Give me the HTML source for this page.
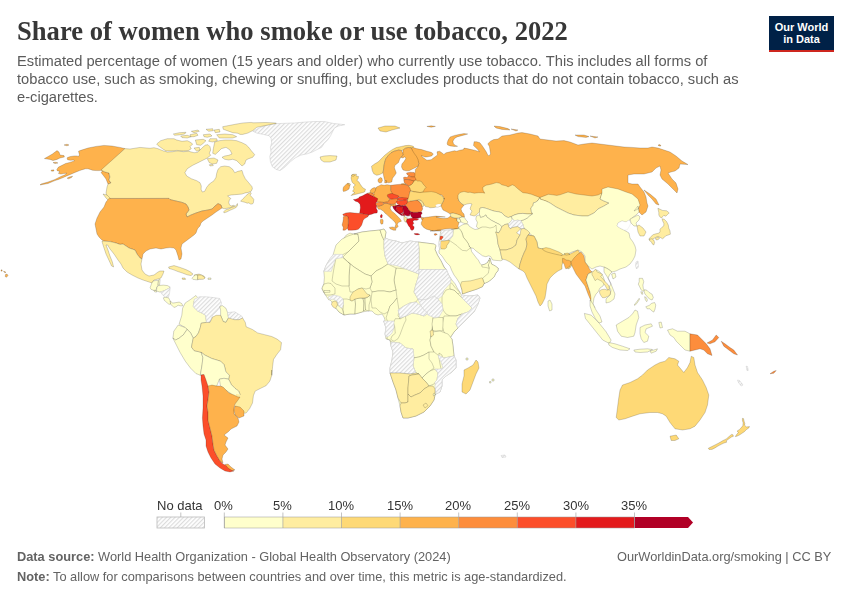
<!DOCTYPE html>
<html><head><meta charset="utf-8">
<style>
html,body{margin:0;padding:0;background:#fff;}
body{width:850px;height:600px;position:relative;overflow:hidden;font-family:"Liberation Sans",sans-serif;}
.t{position:absolute;white-space:nowrap;will-change:transform;}
#title{left:16.5px;top:15.8px;font-family:"Liberation Serif",serif;font-weight:bold;font-size:26.6px;color:#373737;letter-spacing:0px;}
.sub{left:16.5px;font-size:14.7px;color:#5b5b5b;}
#logo{position:absolute;left:769px;top:16px;width:65px;height:36px;background:#002147;border-bottom:2.8px solid #ce261e;box-sizing:border-box;color:#fff;font-weight:bold;font-size:11px;line-height:12px;text-align:center;padding-top:4.5px;}
.lg{font-size:13px;color:#333;top:497.8px;}
.ft{font-size:12.8px;color:#636363;}
svg{position:absolute;left:0;top:0;}
</style></head><body>
<div id="title" class="t">Share of women who smoke or use tobacco, 2022</div>
<div class="t sub" style="top:53px">Estimated percentage of women (15 years and older) who currently use tobacco. This includes all forms of</div>
<div class="t sub" style="top:71.2px">tobacco use, such as smoking, chewing or snuffing, but excludes products that do not contain tobacco, such as</div>
<div class="t sub" style="top:89px">e-cigarettes.</div>
<div id="logo">Our World<br>in Data</div>
<svg width="850" height="600" viewBox="0 0 850 600">
<defs>
<pattern id="hatch" patternUnits="userSpaceOnUse" width="3" height="3" patternTransform="rotate(45)">
<rect width="3" height="3" fill="#fff"/>
<rect x="0" y="0" width="1.2" height="3" fill="#dcdcdc"/>
</pattern>
</defs>
<g id="map">
<path d="M411.8 148.8 L410.0 147.0 L413.2 147.5 L416.4 148.6 L421.6 149.6 L426.9 151.2 L431.2 152.3 L433.3 153.9 L431.7 156.0 L429.1 156.5 L426.9 157.0 L424.8 157.0 L422.7 156.0 L421.1 155.5 L423.8 158.1 L426.9 160.2 L431.2 159.7 L433.3 158.1 L435.4 156.5 L437.5 154.9 L437.0 151.8 L439.6 151.2 L441.8 152.8 L443.9 154.4 L446.0 152.8 L450.2 151.8 L454.5 150.7 L456.6 151.2 L459.8 150.2 L463.5 149.6 L464.0 148.1 L467.2 148.6 L471.4 149.6 L474.6 150.2 L477.8 151.2 L479.4 151.8 L477.8 149.6 L475.6 147.5 L473.5 145.4 L474.1 141.7 L476.7 141.7 L479.9 142.8 L482.0 145.4 L484.1 148.6 L486.2 151.8 L487.8 154.9 L488.9 156.0 L490.5 153.9 L489.9 149.6 L489.4 146.5 L487.8 143.8 L490.5 141.2 L493.7 139.6 L498.0 139.0 L502.0 136.0 L510.0 135.0 L518.0 133.0 L522.0 132.6 L530.0 134.0 L538.0 136.0 L540.0 139.0 L548.0 140.0 L556.0 141.0 L564.0 140.6 L570.0 142.0 L578.0 145.0 L584.0 144.0 L592.0 143.0 L600.0 144.0 L608.0 145.0 L616.0 146.0 L624.0 147.0 L632.0 147.4 L640.0 148.0 L648.0 148.0 L652.0 147.0 L658.0 148.0 L664.0 150.0 L670.0 152.0 L676.0 156.0 L682.0 161.0 L688.0 164.6 L680.0 164.0 L679.0 168.0 L675.0 171.0 L671.0 172.0 L668.0 173.0 L672.0 179.0 L676.0 183.0 L678.0 189.0 L677.0 193.0 L673.0 189.0 L668.0 184.0 L662.0 179.0 L660.0 175.0 L661.0 170.0 L660.0 166.0 L656.0 168.0 L652.0 172.0 L648.0 173.0 L644.0 174.0 L640.0 174.0 L634.0 174.0 L628.0 175.0 L628.0 177.0 L628.0 183.0 L632.0 184.0 L638.0 184.0 L640.0 187.0 L644.0 192.0 L646.0 197.0 L647.0 203.0 L648.0 206.0 L646.0 212.0 L642.0 215.0 L639.0 212.0 L638.0 206.0 L636.0 201.0 L628.0 198.0 L622.0 195.0 L616.0 193.0 L610.0 195.0 L602.0 197.0 L598.0 201.0 L592.0 202.0 L584.0 201.0 L576.0 200.0 L568.0 198.0 L560.0 197.0 L556.0 200.0 L550.0 201.0 L542.0 203.0 L538.0 201.0 L530.0 196.0 L520.0 194.0 L512.0 192.0 L506.0 193.0 L498.0 191.0 L488.0 191.0 L480.0 198.0 L472.0 200.0 L464.0 198.0 L460.0 198.0 L458.0 198.0 L459.0 201.0 L462.0 204.0 L464.0 205.0 L461.0 209.0 L462.0 212.0 L464.0 214.0 L464.5 217.0 L463.0 217.0 L460.0 215.5 L456.0 214.0 L452.0 213.0 L450.0 213.8 L447.0 212.0 L443.0 210.0 L442.0 208.0 L441.0 206.0 L442.0 203.5 L443.5 201.0 L444.0 198.0 L442.0 195.0 L436.0 194.0 L426.0 194.0 L414.0 193.0 L410.0 188.0 L411.0 178.0 L413.0 174.0 L415.3 172.3 L415.3 169.4 L417.6 167.1 L418.8 163.5 L416.5 158.8 L414.1 155.3 L411.8 151.8Z" fill="#feb24c" stroke="#000" stroke-width="0.5" stroke-opacity="0.35"/>
<path d="M44.4 158.6 L49.0 156.0 L52.4 154.0 L57.0 150.6 L59.0 152.0 L60.0 155.0 L64.0 155.6 L64.4 157.0 L60.0 158.0 L57.0 159.4 L53.0 160.6 L50.0 159.4 L47.0 159.0Z" fill="#feb24c" stroke="#000" stroke-width="0.5" stroke-opacity="0.35"/>
<path d="M64.0 145.0 L67.0 144.2 L69.0 145.0 L67.0 145.8Z" fill="#feb24c" stroke="#000" stroke-width="0.5" stroke-opacity="0.35"/>
<path d="M53.0 162.6 L56.0 162.2 L58.0 163.0 L55.0 163.6Z" fill="#feb24c" stroke="#000" stroke-width="0.5" stroke-opacity="0.35"/>
<path d="M51.0 170.2 L53.6 169.8 L54.0 171.0 L51.6 171.2Z" fill="#feb24c" stroke="#000" stroke-width="0.5" stroke-opacity="0.35"/>
<path d="M125.0 148.6 L120.0 147.4 L112.0 146.0 L104.0 145.4 L96.0 146.4 L88.0 148.0 L80.0 150.6 L78.5 151.2 L79.4 154.7 L78.5 156.5 L77.1 155.9 L74.4 155.9 L70.3 156.5 L67.4 157.6 L67.1 158.8 L67.6 159.7 L70.3 160.3 L73.8 160.0 L74.4 160.9 L69.7 162.4 L65.6 163.5 L62.1 165.3 L58.5 167.1 L56.8 169.4 L57.4 170.9 L59.7 171.2 L58.5 173.5 L60.9 174.1 L63.8 173.5 L66.8 173.2 L65.0 174.7 L60.9 176.5 L57.4 178.2 L55.0 179.4 L48.0 182.0 L41.0 184.0 L40.0 185.0 L48.0 183.5 L55.0 180.6 L58.5 179.4 L63.2 177.6 L66.8 175.9 L69.7 174.7 L72.6 173.5 L75.0 172.4 L77.4 171.5 L79.7 170.6 L83.2 169.4 L85.6 168.8 L87.9 168.8 L90.3 169.4 L92.6 170.3 L96.2 170.6 L99.7 170.6 L101.2 170.3 L104.0 171.4 L109.0 173.0 L109.6 177.0 L109.0 180.0 L111.0 183.0 L108.0 184.0 L106.0 179.0 L103.0 175.0 L101.0 172.5Z" fill="#feb24c" stroke="#000" stroke-width="0.5" stroke-opacity="0.35"/>
<path d="M67.1 178.2 L69.1 177.1 L72.6 176.2 L71.5 177.6 L68.5 178.8Z" fill="#feb24c" stroke="#000" stroke-width="0.5" stroke-opacity="0.35"/>
<path d="M252.9 131.2 L259.4 127.9 L265.9 125.4 L273.6 123.8 L282.7 123.4 L294.4 123.0 L304.7 122.1 L315.1 121.5 L324.1 121.5 L333.2 123.4 L344.8 124.7 L338.4 126.0 L334.5 127.9 L332.5 131.8 L330.6 135.7 L328.0 139.6 L324.1 143.5 L321.5 147.4 L317.6 149.3 L312.5 151.9 L307.3 153.8 L300.8 155.1 L295.6 157.7 L290.5 161.6 L285.3 166.8 L280.1 170.6 L276.2 169.4 L272.4 166.8 L270.4 161.6 L269.8 156.4 L271.1 152.5 L270.4 147.4 L271.7 142.8 L271.1 138.3 L269.1 135.7 L263.3 134.4 L256.8 133.1Z" fill="#fff" stroke="none"/>
<path d="M252.9 131.2 L259.4 127.9 L265.9 125.4 L273.6 123.8 L282.7 123.4 L294.4 123.0 L304.7 122.1 L315.1 121.5 L324.1 121.5 L333.2 123.4 L344.8 124.7 L338.4 126.0 L334.5 127.9 L332.5 131.8 L330.6 135.7 L328.0 139.6 L324.1 143.5 L321.5 147.4 L317.6 149.3 L312.5 151.9 L307.3 153.8 L300.8 155.1 L295.6 157.7 L290.5 161.6 L285.3 166.8 L280.1 170.6 L276.2 169.4 L272.4 166.8 L270.4 161.6 L269.8 156.4 L271.1 152.5 L270.4 147.4 L271.7 142.8 L271.1 138.3 L269.1 135.7 L263.3 134.4 L256.8 133.1Z" fill="url(#hatch)" stroke="#c8c8c8" stroke-width="0.5"/>
<path d="M125.0 148.6 L101.0 170.0 L105.0 172.0 L109.0 173.0 L110.0 177.0 L109.0 180.0 L111.0 183.0 L108.0 184.0 L107.0 187.0 L106.0 193.0 L107.0 196.0 L109.0 198.6 L169.0 198.4 L170.0 199.6 L176.0 201.0 L182.0 202.4 L186.0 204.0 L188.0 207.0 L189.0 210.0 L186.0 214.0 L187.0 217.0 L191.0 215.0 L196.0 213.0 L202.0 211.0 L208.0 210.0 L212.0 209.0 L215.0 206.0 L218.0 203.6 L221.0 205.0 L222.0 208.0 L224.0 208.8 L227.6 208.2 L230.6 207.6 L234.7 205.9 L233.5 205.3 L231.2 205.9 L229.4 204.7 L228.8 202.4 L229.4 200.0 L230.9 198.5 L229.4 197.6 L227.6 195.8 L231.2 195.0 L234.7 194.7 L238.2 194.4 L241.8 194.1 L245.3 192.9 L248.2 192.4 L251.2 191.2 L252.4 188.8 L252.0 186.7 L248.7 182.7 L245.3 178.7 L243.3 174.7 L242.0 170.4 L238.0 171.3 L234.7 172.7 L232.7 169.3 L229.3 166.7 L224.7 166.0 L220.7 166.7 L218.0 169.3 L216.7 173.3 L216.0 177.3 L214.0 180.7 L209.3 184.0 L206.7 187.3 L204.7 191.3 L202.3 192.0 L201.1 189.3 L201.3 186.0 L200.0 182.7 L196.7 180.7 L191.3 178.7 L186.7 176.0 L184.9 172.7 L187.3 168.7 L192.7 165.3 L198.0 162.7 L203.3 160.0 L207.3 158.0 L210.7 155.3 L209.3 153.3 L210.7 150.0 L210.0 146.7 L208.0 144.7 L205.3 145.1 L202.7 147.3 L200.0 150.0 L197.3 152.4 L194.0 152.7 L188.7 151.3 L183.3 151.7 L178.0 150.9 L172.7 151.7 L167.3 152.0 L163.3 150.9 L158.0 148.7 L154.0 147.7 L150.0 148.3 L140.0 147.4 L130.0 149.0Z" fill="#ffeda0" stroke="#000" stroke-width="0.5" stroke-opacity="0.35"/>
<path d="M103.0 194.0 L107.0 195.0 L111.0 199.0 L110.0 202.0 L106.0 198.0Z" fill="#ffeda0" stroke="#000" stroke-width="0.5" stroke-opacity="0.35"/>
<path d="M240.6 201.2 L242.9 198.8 L245.3 196.5 L247.6 194.1 L250.6 192.4 L251.2 193.5 L250.0 195.3 L252.4 197.6 L253.8 199.4 L253.5 202.4 L252.4 204.1 L250.6 204.1 L248.8 202.9 L247.1 203.2 L245.3 202.4 L242.9 201.8Z" fill="#ffeda0" stroke="#000" stroke-width="0.5" stroke-opacity="0.35"/>
<path d="M223.5 211.8 L225.9 209.7 L228.8 208.8 L231.2 207.6 L233.5 206.8 L235.9 205.9 L237.4 203.5 L237.6 205.3 L236.2 207.4 L233.5 208.8 L230.0 210.3 L226.5 212.1 L224.1 212.8Z" fill="#ffeda0" stroke="#000" stroke-width="0.5" stroke-opacity="0.35"/>
<path d="M156.7 144.0 L160.7 140.7 L167.3 138.7 L174.0 138.7 L176.7 140.0 L182.0 141.3 L187.3 140.7 L190.0 142.0 L192.7 144.0 L190.0 146.7 L191.3 148.7 L188.7 150.4 L183.3 150.9 L176.7 150.4 L171.3 150.9 L166.0 150.9 L163.3 149.3 L158.0 145.6Z" fill="#ffeda0" stroke="#000" stroke-width="0.5" stroke-opacity="0.35"/>
<path d="M173.3 134.0 L179.3 132.7 L186.0 132.3 L184.7 134.0 L179.3 134.9 L174.7 135.3Z" fill="#ffeda0" stroke="#000" stroke-width="0.5" stroke-opacity="0.35"/>
<path d="M180.7 136.0 L187.3 135.3 L191.3 136.7 L187.3 138.0 L182.0 137.6Z" fill="#ffeda0" stroke="#000" stroke-width="0.5" stroke-opacity="0.35"/>
<path d="M191.3 131.3 L198.0 130.0 L199.3 131.3 L194.0 132.7Z" fill="#ffeda0" stroke="#000" stroke-width="0.5" stroke-opacity="0.35"/>
<path d="M190.0 134.7 L196.7 133.3 L198.0 135.3 L194.0 136.7 L190.7 136.7Z" fill="#ffeda0" stroke="#000" stroke-width="0.5" stroke-opacity="0.35"/>
<path d="M195.3 140.0 L203.3 139.3 L206.0 140.7 L203.3 143.3 L200.7 145.3 L196.7 144.7Z" fill="#ffeda0" stroke="#000" stroke-width="0.5" stroke-opacity="0.35"/>
<path d="M194.0 148.0 L199.3 147.3 L200.0 150.0 L196.7 151.3Z" fill="#ffeda0" stroke="#000" stroke-width="0.5" stroke-opacity="0.35"/>
<path d="M206.0 129.3 L212.7 128.7 L213.3 130.7 L208.7 131.3Z" fill="#ffeda0" stroke="#000" stroke-width="0.5" stroke-opacity="0.35"/>
<path d="M203.3 134.7 L210.0 134.0 L212.0 136.0 L207.3 137.3 L204.0 136.7Z" fill="#ffeda0" stroke="#000" stroke-width="0.5" stroke-opacity="0.35"/>
<path d="M210.0 138.7 L216.7 138.7 L217.3 140.7 L212.7 142.0 L208.7 141.3Z" fill="#ffeda0" stroke="#000" stroke-width="0.5" stroke-opacity="0.35"/>
<path d="M214.0 130.0 L219.3 129.3 L220.0 132.0 L215.3 132.7Z" fill="#ffeda0" stroke="#000" stroke-width="0.5" stroke-opacity="0.35"/>
<path d="M216.7 134.7 L224.7 134.0 L232.7 134.7 L236.7 136.7 L232.7 138.0 L224.7 138.0 L219.3 138.0Z" fill="#ffeda0" stroke="#000" stroke-width="0.5" stroke-opacity="0.35"/>
<path d="M222.7 126.7 L230.0 125.3 L236.7 124.0 L243.3 122.9 L251.3 122.4 L253.0 122.8 L265.9 122.5 L276.2 123.0 L276.2 123.4 L265.9 125.4 L256.8 127.3 L252.9 130.5 L247.8 133.1 L242.6 134.4 L240.0 134.4 L238.0 133.3 L232.7 132.7 L227.3 130.7 L223.3 129.3Z" fill="#ffeda0" stroke="#000" stroke-width="0.5" stroke-opacity="0.35"/>
<path d="M214.7 142.0 L219.3 140.7 L224.7 140.0 L231.3 140.0 L236.7 140.7 L242.0 142.7 L246.0 144.7 L248.7 147.3 L251.3 150.7 L254.7 154.7 L252.7 157.3 L248.7 158.7 L246.0 160.0 L244.7 164.0 L242.0 166.0 L239.3 163.3 L236.7 160.7 L232.7 159.3 L228.7 160.0 L224.7 159.3 L222.0 157.3 L224.7 156.0 L228.7 155.3 L232.0 154.0 L230.0 150.0 L226.0 147.3 L221.3 148.7 L218.0 152.0 L215.3 154.4 L212.7 153.3 L213.3 148.7 L214.0 145.3Z" fill="#ffeda0" stroke="#000" stroke-width="0.5" stroke-opacity="0.35"/>
<path d="M207.3 158.7 L214.0 158.0 L218.0 160.0 L216.7 163.3 L212.7 164.0 L209.3 162.7Z" fill="#ffeda0" stroke="#000" stroke-width="0.5" stroke-opacity="0.35"/>
<path d="M209.3 164.7 L212.7 164.4 L213.3 165.6 L210.0 166.0Z" fill="#ffeda0" stroke="#000" stroke-width="0.5" stroke-opacity="0.35"/>
<path d="M320.0 157.0 L324.0 156.0 L330.0 155.6 L337.0 156.0 L336.0 160.0 L330.0 162.0 L324.0 162.0 L321.0 160.0Z" fill="#ffeda0" stroke="#000" stroke-width="0.5" stroke-opacity="0.35"/>
<path d="M109.0 198.4 L169.0 198.4 L170.0 199.6 L176.0 201.0 L182.0 202.4 L186.0 204.0 L188.0 207.0 L189.0 210.0 L186.0 214.0 L187.0 217.0 L191.0 215.0 L196.0 213.0 L202.0 211.0 L208.0 210.0 L212.0 209.0 L215.0 206.0 L218.0 203.6 L221.0 205.0 L222.0 208.0 L219.0 210.0 L216.0 212.0 L212.0 215.0 L209.0 217.0 L206.0 219.0 L203.0 221.0 L201.0 223.0 L200.0 226.0 L198.0 228.0 L197.0 230.0 L196.0 233.0 L194.0 235.0 L190.0 238.0 L186.0 241.0 L182.0 244.0 L181.0 248.0 L182.0 254.0 L181.0 259.0 L179.0 260.0 L178.0 256.0 L176.0 250.0 L174.0 248.0 L170.0 247.6 L166.0 248.0 L161.0 249.0 L156.0 248.0 L150.0 249.0 L146.0 251.0 L143.0 254.0 L142.0 259.0 L140.0 258.0 L137.0 254.0 L135.0 250.0 L132.0 249.0 L129.0 248.0 L126.0 246.0 L123.0 244.0 L120.0 244.4 L116.0 243.0 L110.0 241.6 L104.0 241.0 L102.0 240.0 L99.0 237.0 L97.0 234.0 L96.0 229.0 L95.0 224.0 L97.0 218.0 L100.0 212.0 L104.0 207.0 L106.0 202.0Z" fill="#feb24c" stroke="#000" stroke-width="0.5" stroke-opacity="0.35"/>
<path d="M102.0 241.0 L110.0 241.6 L116.0 243.0 L120.0 244.4 L123.0 244.0 L126.0 246.0 L129.0 248.0 L132.0 249.0 L135.0 250.0 L137.0 254.0 L140.0 258.0 L142.0 259.0 L141.0 264.0 L142.0 270.0 L145.0 274.0 L149.0 276.0 L154.0 275.0 L158.0 272.0 L160.0 271.0 L164.0 271.0 L163.0 274.0 L161.0 278.0 L158.0 279.0 L154.0 280.0 L152.0 283.0 L149.0 282.0 L143.0 280.0 L138.0 278.0 L132.0 275.0 L127.0 272.0 L123.0 268.0 L121.0 264.0 L118.0 260.0 L114.0 254.0 L110.0 249.0 L107.6 245.0 L106.0 245.0 L108.0 250.0 L110.0 256.0 L112.4 262.0 L113.6 267.0 L111.6 266.0 L109.0 260.4 L106.0 254.0 L104.0 248.0 L102.4 243.0Z" fill="#ffeda0" stroke="#000" stroke-width="0.5" stroke-opacity="0.35"/>
<path d="M168.6 267.0 L174.0 265.6 L180.0 267.4 L186.0 269.6 L190.0 271.6 L193.0 274.0 L191.0 275.6 L187.0 274.8 L182.4 273.0 L178.0 271.6 L173.0 269.6 L169.0 268.4Z" fill="#ffeda0" stroke="#000" stroke-width="0.5" stroke-opacity="0.35"/>
<path d="M194.0 275.0 L199.0 274.0 L204.0 276.0 L205.0 278.0 L200.0 279.0 L195.0 278.0Z" fill="#ffeda0" stroke="#000" stroke-width="0.5" stroke-opacity="0.35"/>
<path d="M182.0 278.0 L185.0 278.0 L185.6 279.4 L182.6 279.4Z" fill="#ffeda0" stroke="#000" stroke-width="0.5" stroke-opacity="0.35"/>
<path d="M208.0 278.0 L211.0 278.0 L211.0 279.4 L208.0 279.4Z" fill="#ffffcc" stroke="#000" stroke-width="0.5" stroke-opacity="0.35"/>
<path d="M150.1 287.8 L151.6 283.5 L153.2 280.9 L156.9 280.4 L158.5 280.9 L158.0 285.1 L156.9 287.2 L155.9 290.4 L153.8 290.4 L151.1 289.4Z" fill="#ffffcc" stroke="#000" stroke-width="0.5" stroke-opacity="0.35"/>
<path d="M158.5 279.8 L160.1 279.3 L159.6 285.1 L158.0 285.1Z" fill="#ffffcc" stroke="#000" stroke-width="0.5" stroke-opacity="0.35"/>
<path d="M156.9 287.2 L158.5 285.6 L163.3 285.1 L167.5 285.6 L170.2 287.2 L168.1 288.8 L164.9 290.4 L162.2 291.5 L159.6 292.0 L156.4 290.9Z" fill="#ffffcc" stroke="#000" stroke-width="0.5" stroke-opacity="0.35"/>
<path d="M153.8 290.4 L155.9 290.4 L156.9 292.0 L154.8 292.0Z" fill="#ffffcc" stroke="#000" stroke-width="0.5" stroke-opacity="0.35"/>
<path d="M160.6 292.0 L164.9 290.4 L168.1 288.8 L170.2 287.8 L169.6 292.5 L168.6 296.8 L165.4 297.3 L162.8 295.2Z" fill="#fff" stroke="none"/>
<path d="M160.6 292.0 L164.9 290.4 L168.1 288.8 L170.2 287.8 L169.6 292.5 L168.6 296.8 L165.4 297.3 L162.8 295.2Z" fill="url(#hatch)" stroke="#c8c8c8" stroke-width="0.5"/>
<path d="M163.3 297.8 L165.4 297.3 L168.6 297.8 L170.2 301.0 L170.7 304.2 L168.6 304.2 L166.5 302.1 L164.4 300.5Z" fill="#ffffcc" stroke="#000" stroke-width="0.5" stroke-opacity="0.35"/>
<path d="M170.2 301.0 L172.8 303.1 L176.0 302.6 L179.2 302.1 L181.8 303.6 L182.9 305.8 L180.2 305.8 L178.1 305.2 L176.0 306.8 L173.9 307.4 L171.8 305.2 L170.7 304.2Z" fill="#ffffcc" stroke="#000" stroke-width="0.5" stroke-opacity="0.35"/>
<path d="M191.9 278.2 L195.1 275.1 L197.7 275.1 L197.7 279.8 L196.1 279.8 L192.9 279.3Z" fill="#ffffcc" stroke="#000" stroke-width="0.5" stroke-opacity="0.35"/>
<path d="M197.7 275.1 L201.4 275.1 L205.1 277.7 L203.5 279.3 L199.3 279.3 L197.7 279.8Z" fill="#ffeda0" stroke="#000" stroke-width="0.5" stroke-opacity="0.35"/>
<path d="M179.1 324.1 L181.8 315.3 L182.6 308.2 L185.3 302.9 L190.6 299.4 L195.9 295.5 L197.6 297.6 L194.1 301.2 L193.2 306.5 L197.6 310.9 L202.9 313.5 L205.6 315.3 L206.5 322.4 L201.2 323.2 L200.3 327.6 L198.5 332.9 L195.9 336.5 L193.2 338.2 L190.6 332.9 L187.1 329.4 L185.3 327.6Z" fill="#ffffcc" stroke="#000" stroke-width="0.5" stroke-opacity="0.35"/>
<path d="M194.1 299.4 L199.4 296.8 L206.5 296.8 L213.5 297.6 L219.7 298.5 L221.5 302.9 L220.6 306.5 L217.1 310.9 L212.6 315.3 L210.0 322.4 L206.5 322.4 L205.6 315.3 L202.9 313.5 L197.6 310.9 L193.2 306.5 L194.1 301.2Z" fill="#fff" stroke="none"/>
<path d="M194.1 299.4 L199.4 296.8 L206.5 296.8 L213.5 297.6 L219.7 298.5 L221.5 302.9 L220.6 306.5 L217.1 310.9 L212.6 315.3 L210.0 322.4 L206.5 322.4 L205.6 315.3 L202.9 313.5 L197.6 310.9 L193.2 306.5 L194.1 301.2Z" fill="url(#hatch)" stroke="#c8c8c8" stroke-width="0.5"/>
<path d="M219.7 306.5 L222.3 305.6 L225.9 308.2 L227.6 312.6 L228.5 317.9 L225.9 322.4 L223.2 321.5 L220.6 315.3 L220.6 310.0Z" fill="#ffffcc" stroke="#000" stroke-width="0.5" stroke-opacity="0.35"/>
<path d="M227.6 312.6 L234.7 311.8 L241.8 316.2 L242.6 317.9 L239.1 319.7 L234.7 319.7 L229.4 320.6 L228.5 317.9Z" fill="#fff" stroke="none"/>
<path d="M227.6 312.6 L234.7 311.8 L241.8 316.2 L242.6 317.9 L239.1 319.7 L234.7 319.7 L229.4 320.6 L228.5 317.9Z" fill="url(#hatch)" stroke="#c8c8c8" stroke-width="0.5"/>
<path d="M173.8 331.2 L178.2 325.0 L185.3 327.6 L187.1 329.4 L183.5 334.7 L179.1 338.2 L175.6 340.0 L172.9 338.2Z" fill="#ffffcc" stroke="#000" stroke-width="0.5" stroke-opacity="0.35"/>
<path d="M172.9 338.2 L175.6 340.0 L179.1 338.2 L183.5 334.7 L187.1 329.4 L190.6 332.9 L193.2 338.2 L191.5 347.1 L194.1 350.6 L201.2 352.3 L202.9 357.6 L202.1 364.7 L201.2 370.0 L200.3 375.3 L195.9 373.5 L190.6 368.2 L185.3 361.2 L180.0 352.3 L176.5 345.3Z" fill="#ffffcc" stroke="#000" stroke-width="0.5" stroke-opacity="0.35"/>
<path d="M201.2 323.2 L206.5 322.4 L210.0 322.4 L212.6 317.1 L216.2 315.3 L220.6 315.3 L223.2 321.5 L225.9 322.4 L228.5 317.9 L234.7 319.7 L239.1 319.7 L242.6 317.9 L245.3 322.4 L246.2 326.8 L252.3 329.4 L257.6 332.9 L264.7 334.7 L271.8 336.5 L277.1 339.1 L281.5 342.6 L280.6 349.7 L277.1 354.1 L273.5 359.4 L272.6 366.5 L271.8 375.3 L271.7 370.0 L271.7 375.5 L269.9 381.0 L266.2 385.6 L260.7 388.3 L255.2 391.1 L253.4 395.7 L252.5 403.0 L249.7 408.5 L246.1 413.1 L244.2 413.1 L238.7 408.5 L235.0 407.6 L238.7 403.0 L241.5 397.5 L240.6 395.7 L238.7 391.1 L235.0 388.3 L231.4 384.7 L228.6 379.2 L229.4 375.3 L225.9 371.8 L224.1 364.7 L220.6 361.2 L211.8 358.5 L204.7 355.0 L201.2 352.3 L194.1 350.6 L191.5 347.1 L193.2 338.2 L195.9 336.5 L198.5 332.9 L200.3 327.6Z" fill="#ffeda0" stroke="#000" stroke-width="0.5" stroke-opacity="0.35"/>
<path d="M201.2 352.3 L204.7 355.0 L211.8 358.5 L220.6 361.2 L224.1 364.7 L225.9 371.8 L229.4 375.3 L228.6 379.2 L224.0 378.3 L219.4 379.2 L216.7 386.1 L211.2 386.1 L207.5 388.3 L204.8 381.0 L202.9 374.6 L200.3 375.3 L201.2 370.0 L202.1 364.7 L202.9 357.6Z" fill="#ffffcc" stroke="#000" stroke-width="0.5" stroke-opacity="0.35"/>
<path d="M219.4 379.2 L224.0 378.3 L228.6 379.2 L231.4 384.7 L235.0 388.3 L238.7 391.1 L240.6 395.7 L236.9 397.5 L233.2 398.4 L231.4 393.9 L225.9 390.2 L220.4 385.6Z" fill="#ffffcc" stroke="#000" stroke-width="0.5" stroke-opacity="0.35"/>
<path d="M236.0 394.0 L242.0 395.0 L246.0 404.0 L247.0 412.0 L244.0 412.4 L240.0 408.0 L235.0 405.6Z" fill="#ffeda0" stroke="none" stroke-width="0.5" stroke-opacity="0.35"/>
<path d="M201.0 375.0 L204.0 374.4 L206.0 380.0 L208.0 386.0 L209.0 392.0 L208.0 400.0 L207.0 406.0 L208.0 412.0 L208.0 420.0 L210.0 428.0 L212.0 436.0 L213.0 444.0 L214.0 450.0 L217.0 456.0 L220.0 461.0 L223.0 464.0 L227.0 466.0 L230.0 469.0 L234.0 471.0 L230.0 472.0 L225.0 471.0 L220.0 468.0 L215.0 464.0 L211.0 458.0 L208.0 452.0 L206.0 446.0 L206.0 440.0 L204.0 434.0 L203.0 426.0 L202.4 418.0 L203.0 408.0 L203.0 396.0 L202.0 386.0 L201.0 380.0Z" fill="#fc4e2a" stroke="#000" stroke-width="0.5" stroke-opacity="0.35"/>
<path d="M208.0 386.0 L212.0 385.0 L216.0 386.0 L220.0 386.0 L223.0 387.0 L229.0 393.0 L234.0 395.0 L238.0 397.0 L240.0 397.0 L238.0 400.0 L235.0 404.0 L234.0 408.0 L234.0 414.0 L238.0 418.0 L239.0 422.0 L237.0 426.0 L233.0 428.0 L231.0 429.0 L228.0 432.0 L224.0 435.0 L228.0 438.0 L226.0 442.0 L225.0 445.0 L228.0 449.0 L226.0 452.0 L223.0 455.0 L222.0 459.0 L223.0 463.0 L220.0 461.0 L217.0 456.0 L214.0 450.0 L213.0 444.0 L212.0 436.0 L210.0 428.0 L208.0 420.0 L208.0 412.0 L207.0 406.0 L208.0 400.0 L209.0 392.0Z" fill="#feb24c" stroke="#000" stroke-width="0.5" stroke-opacity="0.35"/>
<path d="M225.0 464.4 L228.0 464.0 L231.0 467.0 L235.0 470.0 L232.0 470.6 L228.0 468.0Z" fill="#feb24c" stroke="#000" stroke-width="0.5" stroke-opacity="0.35"/>
<path d="M235.0 406.0 L240.0 407.0 L244.0 411.0 L244.0 416.0 L239.0 418.0 L235.0 415.0 L234.0 410.0Z" fill="#feb24c" stroke="#000" stroke-width="0.5" stroke-opacity="0.35"/>
<path d="M1.0 270.0 L2.0 269.8 L2.2 271.0 L1.2 271.2Z" fill="#feb24c" stroke="#000" stroke-width="0.5" stroke-opacity="0.35"/>
<path d="M3.5 271.3 L5.0 271.6 L6.0 272.5 L4.5 272.6Z" fill="#feb24c" stroke="#000" stroke-width="0.5" stroke-opacity="0.35"/>
<path d="M5.5 274.5 L7.0 274.0 L8.0 275.5 L6.5 277.3 L5.2 276.5Z" fill="#feb24c" stroke="#000" stroke-width="0.5" stroke-opacity="0.35"/>
<path d="M371.5 166.3 L374.5 164.0 L378.3 161.8 L382.0 158.0 L385.0 155.0 L388.8 152.0 L392.5 149.4 L396.3 147.5 L401.5 146.4 L405.3 145.6 L409.0 145.3 L412.8 146.0 L413.9 147.1 L411.3 147.9 L408.3 147.5 L405.3 148.3 L403.0 150.1 L401.5 150.5 L398.5 150.1 L394.0 151.3 L391.0 152.8 L388.0 155.8 L385.8 158.8 L384.6 162.5 L383.9 166.3 L383.5 170.0 L382.8 173.0 L379.8 174.5 L376.8 175.3 L373.8 173.8 L372.3 170.8Z" fill="#fed976" stroke="#000" stroke-width="0.5" stroke-opacity="0.35"/>
<path d="M383.5 170.0 L383.9 166.3 L384.6 162.5 L385.8 158.8 L388.0 155.8 L391.0 152.8 L394.0 151.3 L398.5 150.1 L401.5 150.5 L403.0 153.5 L403.4 155.0 L400.8 157.3 L399.6 159.5 L398.5 162.5 L394.8 165.5 L394.4 167.8 L395.5 170.8 L396.3 173.0 L394.8 175.3 L392.5 178.3 L391.8 182.0 L388.8 182.8 L385.8 182.0 L384.3 179.0 L383.5 175.3 L383.1 173.0Z" fill="#feb24c" stroke="#000" stroke-width="0.5" stroke-opacity="0.35"/>
<path d="M403.0 150.1 L405.3 148.3 L408.3 147.5 L411.3 147.9 L412.0 149.8 L414.3 153.5 L416.5 156.5 L418.0 159.5 L418.8 163.3 L418.0 166.3 L415.0 167.8 L412.0 169.3 L409.0 170.8 L406.0 170.8 L403.0 170.0 L401.5 167.0 L401.9 164.0 L403.8 161.8 L405.3 159.5 L406.0 158.0 L404.5 156.9 L403.0 158.0 L400.8 157.3 L403.4 155.0 L403.0 153.5Z" fill="#feb24c" stroke="#000" stroke-width="0.5" stroke-opacity="0.35"/>
<path d="M406.5 173.0 L410.0 172.2 L414.0 172.5 L414.8 173.5 L415.0 175.0 L414.5 177.0 L412.0 177.0 L410.0 176.5 L408.5 175.5 L407.0 174.5Z" fill="#fd8d3c" stroke="#000" stroke-width="0.5" stroke-opacity="0.35"/>
<path d="M403.5 177.5 L405.0 177.0 L407.0 177.5 L408.5 175.8 L410.0 176.5 L412.0 177.0 L414.5 177.0 L415.5 178.0 L416.0 180.0 L414.0 181.0 L412.0 180.5 L410.0 180.0 L407.5 179.5 L405.0 179.5 L403.8 179.8Z" fill="#fd8d3c" stroke="#000" stroke-width="0.5" stroke-opacity="0.35"/>
<path d="M403.8 180.0 L405.0 179.5 L407.5 179.5 L410.0 180.0 L412.0 180.5 L414.0 181.0 L413.0 183.0 L411.5 184.5 L410.0 185.5 L408.5 186.0 L407.0 185.0 L406.0 184.0 L404.5 183.0 L404.0 181.5Z" fill="#fd8d3c" stroke="#000" stroke-width="0.5" stroke-opacity="0.35"/>
<path d="M401.0 184.0 L403.0 183.5 L405.5 183.8 L406.0 184.8 L404.0 185.0 L401.5 185.0Z" fill="#feb24c" stroke="#000" stroke-width="0.5" stroke-opacity="0.35"/>
<path d="M408.5 186.0 L410.0 185.5 L411.5 184.5 L413.0 183.0 L414.0 181.0 L416.0 180.0 L417.5 181.0 L420.0 181.0 L422.0 182.0 L423.0 184.0 L425.0 186.0 L426.0 187.5 L425.0 188.5 L424.0 190.0 L423.0 192.0 L420.0 192.5 L417.0 192.0 L414.0 191.5 L411.5 191.0 L410.0 190.5 L409.2 189.0 L409.0 187.5Z" fill="#fed976" stroke="#000" stroke-width="0.5" stroke-opacity="0.35"/>
<path d="M390.6 185.3 L395.3 184.7 L401.2 184.2 L405.3 184.7 L407.6 185.3 L410.0 188.2 L410.6 190.6 L409.4 194.1 L410.0 198.8 L405.9 199.1 L402.4 198.1 L398.8 197.3 L395.3 196.1 L392.4 194.7 L390.6 190.6Z" fill="#fd8d3c" stroke="#000" stroke-width="0.5" stroke-opacity="0.35"/>
<path d="M378.3 179.0 L380.5 177.5 L382.0 178.3 L382.4 180.5 L381.3 182.8 L379.0 182.8 L377.9 180.9Z" fill="#feb24c" stroke="#000" stroke-width="0.5" stroke-opacity="0.35"/>
<path d="M384.7 180.6 L386.5 180.6 L386.7 182.9 L384.7 182.9Z" fill="#feb24c" stroke="#000" stroke-width="0.5" stroke-opacity="0.35"/>
<path d="M376.5 187.1 L378.8 185.9 L381.2 184.7 L384.1 185.3 L387.1 184.7 L390.6 185.3 L390.6 190.6 L392.4 193.5 L389.4 194.7 L387.6 196.5 L389.4 198.8 L390.6 201.2 L388.2 201.8 L384.7 202.4 L381.2 202.4 L376.5 201.8 L374.7 198.8 L373.5 195.3 L374.1 191.8 L375.3 189.4Z" fill="#feb24c" stroke="#000" stroke-width="0.5" stroke-opacity="0.35"/>
<path d="M352.0 174.8 L353.5 174.2 L356.5 174.2 L356.0 176.0 L358.5 176.5 L358.2 178.5 L357.0 180.0 L357.2 180.8 L359.0 182.0 L360.0 184.0 L361.5 186.0 L362.5 187.5 L364.0 188.5 L365.5 189.2 L365.0 191.0 L364.5 192.0 L363.0 192.5 L361.0 193.0 L359.0 193.5 L357.0 194.0 L355.0 194.5 L353.0 195.0 L351.0 195.5 L352.0 194.5 L353.5 193.5 L355.0 192.8 L353.5 192.0 L352.5 191.0 L353.5 190.0 L354.0 189.0 L353.5 187.5 L353.0 187.0 L354.5 186.0 L355.0 185.0 L354.5 184.0 L353.0 183.2 L352.0 182.0 L351.5 180.0 L351.0 178.0 L351.5 176.0Z" fill="#fed976" stroke="#000" stroke-width="0.5" stroke-opacity="0.35"/>
<path d="M343.0 191.0 L343.0 189.0 L343.5 187.0 L345.0 185.5 L347.0 183.5 L348.5 183.2 L349.5 184.5 L350.0 185.5 L349.5 187.0 L349.0 189.0 L347.5 190.0 L345.5 191.0 L343.5 191.5Z" fill="#feb24c" stroke="#000" stroke-width="0.5" stroke-opacity="0.35"/>
<path d="M347.5 184.0 L349.5 183.5 L350.5 184.2 L350.0 185.0 L348.8 185.0Z" fill="#fed976" stroke="#000" stroke-width="0.5" stroke-opacity="0.35"/>
<path d="M351.2 175.3 L352.9 174.4 L354.7 175.3 L353.2 176.5Z" fill="#fed976" stroke="#000" stroke-width="0.5" stroke-opacity="0.35"/>
<path d="M353.3 199.6 L355.8 199.2 L358.8 197.9 L359.2 197.1 L362.5 195.8 L366.2 193.8 L367.5 193.3 L370.0 194.6 L373.3 196.2 L376.7 197.9 L377.9 198.8 L376.7 201.7 L375.8 203.8 L376.7 205.8 L376.2 208.3 L377.5 210.8 L377.1 212.9 L374.2 213.3 L371.7 214.2 L368.8 215.0 L365.8 214.6 L362.5 213.8 L359.6 213.3 L360.0 210.8 L360.4 207.5 L360.0 204.2 L357.9 202.1 L355.4 201.2Z" fill="#e31a1c" stroke="#000" stroke-width="0.5" stroke-opacity="0.35"/>
<path d="M380.7 215.0 L381.7 214.2 L382.3 215.4 L382.1 217.5 L380.8 217.9 L380.4 216.2Z" fill="#e31a1c" stroke="#000" stroke-width="0.5" stroke-opacity="0.35"/>
<path d="M380.4 219.6 L382.5 219.2 L383.2 220.8 L382.9 223.8 L381.2 224.2 L380.4 222.5Z" fill="#feb24c" stroke="#000" stroke-width="0.5" stroke-opacity="0.35"/>
<path d="M342.9 214.2 L345.8 212.9 L350.0 212.5 L354.2 212.9 L357.9 213.3 L359.6 213.3 L362.5 213.8 L365.8 214.6 L368.8 215.0 L367.9 216.7 L365.0 218.3 L363.3 220.0 L362.5 222.5 L361.7 225.0 L360.0 227.5 L358.3 229.2 L355.8 230.0 L351.7 230.2 L348.3 230.2 L347.5 228.3 L347.9 225.8 L348.3 223.3 L348.3 220.0 L347.9 216.7 L345.8 215.8 L343.8 215.8 L342.9 215.0Z" fill="#fc4e2a" stroke="#000" stroke-width="0.5" stroke-opacity="0.35"/>
<path d="M343.3 216.7 L345.8 215.8 L347.9 216.7 L348.3 220.0 L348.3 223.3 L347.9 225.8 L347.5 228.3 L345.0 230.2 L342.9 230.2 L343.3 227.5 L342.1 225.0 L342.9 221.7 L343.3 219.2Z" fill="#fd8d3c" stroke="#000" stroke-width="0.5" stroke-opacity="0.35"/>
<path d="M368.3 192.9 L370.4 192.5 L372.9 193.3 L374.2 194.6 L373.3 196.2 L370.0 194.6 L367.5 193.3Z" fill="#fd8d3c" stroke="#000" stroke-width="0.5" stroke-opacity="0.35"/>
<path d="M370.0 190.8 L371.7 188.8 L374.2 187.5 L375.8 187.9 L375.4 190.8 L374.2 192.5 L372.9 193.3 L370.4 192.5Z" fill="#feb24c" stroke="#000" stroke-width="0.5" stroke-opacity="0.35"/>
<path d="M376.7 206.5 L378.6 206.0 L380.9 205.5 L382.4 205.1 L383.3 204.1 L384.2 203.4 L386.1 203.2 L388.0 203.6 L389.9 204.1 L390.8 204.6 L391.3 205.8 L390.4 206.9 L390.2 208.5 L391.6 210.9 L394.5 213.2 L397.3 216.1 L400.1 218.9 L401.5 221.2 L400.1 221.7 L398.2 222.6 L397.3 224.5 L398.2 226.4 L396.4 228.3 L394.9 226.9 L395.9 224.1 L394.9 222.2 L392.6 219.8 L389.8 217.5 L387.4 215.1 L385.1 213.2 L383.2 210.9 L380.4 209.3 L378.5 209.3 L377.5 207.6Z" fill="#feb24c" stroke="#000" stroke-width="0.5" stroke-opacity="0.35"/>
<path d="M389.3 227.4 L392.6 226.9 L395.4 227.8 L395.9 230.2 L393.5 230.2 L390.2 228.8Z" fill="#feb24c" stroke="#000" stroke-width="0.5" stroke-opacity="0.35"/>
<path d="M375.3 204.1 L376.7 202.7 L378.6 202.2 L380.5 202.0 L382.4 202.2 L383.8 202.9 L383.3 204.1 L382.4 205.1 L380.9 205.5 L379.5 206.0 L377.6 205.8 L376.2 205.3Z" fill="#fd8d3c" stroke="#000" stroke-width="0.5" stroke-opacity="0.35"/>
<path d="M383.3 202.5 L385.2 202.2 L387.5 202.0 L388.5 201.3 L388.9 200.1 L390.8 199.2 L392.2 198.9 L394.6 198.7 L396.9 198.5 L397.9 198.7 L398.4 200.0 L397.4 201.3 L396.5 202.2 L395.5 203.6 L393.6 204.4 L391.8 204.4 L389.9 204.1 L388.0 203.6 L386.1 203.2 L384.2 203.4Z" fill="#fd8d3c" stroke="#000" stroke-width="0.5" stroke-opacity="0.35"/>
<path d="M387.5 194.7 L389.9 193.8 L392.2 193.5 L394.6 194.5 L396.9 195.2 L398.8 196.1 L398.4 197.5 L396.9 198.5 L394.6 198.7 L392.2 198.9 L390.8 199.2 L389.4 198.5 L388.0 197.1 L387.3 195.6Z" fill="#fc4e2a" stroke="#000" stroke-width="0.5" stroke-opacity="0.35"/>
<path d="M397.6 198.2 L399.3 197.5 L402.1 197.5 L404.9 197.8 L407.8 198.0 L407.8 199.4 L405.9 200.1 L404.0 200.1 L402.1 200.6 L400.2 200.6 L398.4 200.1 L397.4 199.4Z" fill="#fc4e2a" stroke="#000" stroke-width="0.5" stroke-opacity="0.35"/>
<path d="M396.5 201.3 L398.4 200.4 L400.2 200.6 L402.1 200.6 L404.0 200.1 L405.9 200.1 L408.0 200.4 L407.8 202.2 L406.8 204.1 L404.9 205.1 L403.1 205.8 L401.2 205.8 L399.3 205.1 L397.6 204.1 L396.5 202.7Z" fill="#fc4e2a" stroke="#000" stroke-width="0.5" stroke-opacity="0.35"/>
<path d="M390.8 204.6 L392.7 204.4 L394.6 204.4 L395.5 204.1 L396.0 205.5 L394.6 206.2 L392.7 206.0 L391.3 205.8Z" fill="#feb24c" stroke="#000" stroke-width="0.5" stroke-opacity="0.35"/>
<path d="M392.7 206.0 L394.6 206.2 L396.0 205.5 L397.4 205.1 L399.3 205.1 L401.2 205.8 L403.1 205.8 L402.5 206.5 L401.1 207.1 L398.2 206.6 L395.9 207.1 L396.8 209.9 L399.2 212.3 L402.0 214.2 L403.4 215.6 L401.5 215.6 L398.2 213.2 L395.4 210.9 L393.5 208.5 L392.9 207.1Z" fill="#b10026" stroke="#000" stroke-width="0.5" stroke-opacity="0.35"/>
<path d="M395.9 207.1 L398.2 206.6 L401.1 207.1 L402.5 206.2 L402.9 208.5 L403.4 211.4 L402.0 213.2 L400.1 213.2 L399.2 212.3 L396.8 209.9Z" fill="#e31a1c" stroke="#000" stroke-width="0.5" stroke-opacity="0.35"/>
<path d="M402.5 206.2 L405.3 205.2 L407.2 207.1 L408.6 209.5 L410.5 211.4 L410.0 213.7 L409.5 216.1 L407.2 216.1 L404.8 215.1 L403.4 213.2 L403.4 211.4 L402.9 208.5Z" fill="#b10026" stroke="#000" stroke-width="0.5" stroke-opacity="0.35"/>
<path d="M402.0 213.2 L403.4 213.2 L404.8 215.1 L404.4 216.1 L403.4 215.6Z" fill="#e31a1c" stroke="#000" stroke-width="0.5" stroke-opacity="0.35"/>
<path d="M410.5 211.4 L413.3 212.3 L417.1 212.3 L421.3 211.8 L422.2 213.2 L420.8 215.1 L421.3 217.5 L418.0 217.9 L415.2 218.4 L412.8 217.9 L411.4 217.0 L410.0 213.7Z" fill="#b10026" stroke="#000" stroke-width="0.5" stroke-opacity="0.35"/>
<path d="M407.2 216.1 L409.5 216.1 L411.4 217.0 L411.9 218.9 L409.5 219.4 L407.2 218.9 L406.2 217.5Z" fill="#fff" stroke="none"/>
<path d="M407.2 216.1 L409.5 216.1 L411.4 217.0 L411.9 218.9 L409.5 219.4 L407.2 218.9 L406.2 217.5Z" fill="url(#hatch)" stroke="#c8c8c8" stroke-width="0.5"/>
<path d="M403.9 216.1 L406.2 217.5 L407.2 218.9 L406.7 220.8 L405.8 222.2 L404.8 221.7 L403.9 219.4 L403.9 217.5Z" fill="#ffeda0" stroke="#000" stroke-width="0.5" stroke-opacity="0.35"/>
<path d="M406.2 221.2 L407.2 218.9 L410.5 218.4 L413.3 217.9 L417.1 218.4 L418.9 218.9 L417.1 220.3 L414.2 220.3 L412.8 221.2 L413.8 223.6 L412.4 225.0 L414.2 226.9 L413.8 229.2 L411.9 230.6 L410.5 229.2 L410.0 227.4 L408.6 225.9 L407.6 224.1 L406.7 222.6Z" fill="#e31a1c" stroke="#000" stroke-width="0.5" stroke-opacity="0.35"/>
<path d="M414.2 233.5 L418.0 233.5 L419.9 234.4 L417.1 234.9 L414.7 234.4Z" fill="#e31a1c" stroke="#000" stroke-width="0.5" stroke-opacity="0.35"/>
<path d="M407.6 201.9 L410.5 201.0 L414.2 200.5 L417.1 200.1 L419.4 201.5 L421.3 203.8 L422.2 206.6 L422.7 209.0 L421.3 211.4 L417.1 212.3 L413.3 212.3 L410.5 211.4 L408.6 209.5 L407.2 207.1 L405.3 205.2 L406.7 203.8Z" fill="#fd8d3c" stroke="#000" stroke-width="0.5" stroke-opacity="0.35"/>
<path d="M417.1 200.1 L418.9 199.6 L421.3 200.5 L423.2 202.9 L424.1 204.8 L423.6 206.2 L422.2 206.6 L421.3 203.8 L419.4 201.5Z" fill="#ffeda0" stroke="#000" stroke-width="0.5" stroke-opacity="0.35"/>
<path d="M408.6 197.2 L409.5 193.5 L410.0 191.0 L411.5 191.3 L414.0 191.8 L417.0 192.2 L420.0 192.6 L423.0 192.2 L426.5 192.0 L431.2 191.6 L435.9 192.5 L439.6 194.4 L442.5 196.3 L444.4 199.1 L444.0 198.0 L443.5 201.0 L442.0 203.5 L441.0 206.0 L438.0 207.0 L436.0 207.0 L434.0 207.5 L430.0 207.8 L428.4 207.1 L425.5 206.6 L424.1 204.8 L423.2 202.9 L421.3 200.5 L418.9 199.6 L417.1 200.1 L414.2 200.5 L410.5 201.0 L407.6 201.9 L407.6 200.1Z" fill="#fed976" stroke="#000" stroke-width="0.5" stroke-opacity="0.35"/>
<path d="M435.5 205.0 L438.0 204.0 L441.0 204.0 L440.5 206.0 L438.0 207.0 L436.0 206.8Z" fill="#ffffff" stroke="#bbbbbb" stroke-width="0.5" stroke-opacity="0.35"/>
<path d="M421.8 218.9 L424.6 217.5 L428.4 217.0 L432.1 216.5 L435.9 216.1 L440.6 216.5 L445.3 217.0 L436.0 217.0 L440.0 218.0 L444.0 218.5 L448.0 218.0 L450.5 216.0 L452.0 217.5 L455.0 218.0 L457.0 218.5 L457.0 221.0 L459.0 222.5 L458.0 226.0 L459.0 229.0 L455.0 229.0 L450.0 228.5 L445.0 229.0 L440.0 230.0 L435.0 230.5 L430.0 231.0 L445.3 231.1 L441.5 230.2 L437.8 230.2 L434.0 231.1 L430.2 230.2 L426.5 229.2 L423.6 227.4 L421.3 224.5 L421.3 222.2 L422.2 220.8Z" fill="#feb24c" stroke="#000" stroke-width="0.5" stroke-opacity="0.35"/>
<path d="M421.3 217.5 L423.6 217.5 L422.7 219.4 L421.3 218.9Z" fill="#feb24c" stroke="#000" stroke-width="0.5" stroke-opacity="0.35"/>
<path d="M434.0 233.9 L435.9 233.5 L437.3 234.4 L434.9 235.4Z" fill="#fd8d3c" stroke="#000" stroke-width="0.5" stroke-opacity="0.35"/>
<path d="M450.0 213.8 L453.0 213.0 L457.0 214.0 L461.0 215.5 L462.0 217.0 L459.0 218.0 L455.0 218.0 L451.0 217.0Z" fill="#ffeda0" stroke="#000" stroke-width="0.5" stroke-opacity="0.35"/>
<path d="M457.0 218.5 L460.0 219.0 L461.0 222.0 L459.0 222.5 L457.0 221.0Z" fill="#ffffcc" stroke="#000" stroke-width="0.5" stroke-opacity="0.35"/>
<path d="M459.0 218.0 L462.0 217.0 L464.5 217.5 L466.0 220.0 L468.0 222.0 L466.5 224.0 L463.0 223.0 L461.0 222.0 L460.0 219.0Z" fill="#ffffcc" stroke="#000" stroke-width="0.5" stroke-opacity="0.35"/>
<path d="M447.1 143.3 L448.1 140.1 L450.2 136.9 L454.5 135.4 L459.8 134.3 L464.0 133.6 L467.7 134.0 L465.1 134.8 L460.8 135.9 L457.1 136.9 L454.5 138.5 L452.9 141.2 L453.4 143.8 L455.5 145.4 L457.6 146.3 L454.5 146.5 L450.2 145.9 L447.6 144.9Z" fill="#feb24c" stroke="#000" stroke-width="0.5" stroke-opacity="0.35"/>
<path d="M426.9 126.4 L431.2 125.8 L435.4 126.4 L431.2 127.2Z" fill="#feb24c" stroke="#000" stroke-width="0.5" stroke-opacity="0.35"/>
<path d="M494.0 126.0 L500.0 126.6 L508.0 128.6 L510.0 130.0 L502.0 129.4 L496.0 128.0Z" fill="#feb24c" stroke="#000" stroke-width="0.5" stroke-opacity="0.35"/>
<path d="M511.0 129.0 L518.0 130.0 L516.0 131.0Z" fill="#feb24c" stroke="#000" stroke-width="0.5" stroke-opacity="0.35"/>
<path d="M575.0 135.0 L584.0 135.0 L589.0 136.6 L586.0 137.4 L578.0 136.6Z" fill="#feb24c" stroke="#000" stroke-width="0.5" stroke-opacity="0.35"/>
<path d="M590.0 136.0 L598.0 137.0 L595.0 138.0Z" fill="#feb24c" stroke="#000" stroke-width="0.5" stroke-opacity="0.35"/>
<path d="M644.0 190.0 L650.0 194.0 L656.0 199.0 L659.0 205.0 L656.0 204.0 L652.0 199.0 L648.0 195.0Z" fill="#feb24c" stroke="#000" stroke-width="0.5" stroke-opacity="0.35"/>
<path d="M658.0 145.0 L660.0 144.6 L661.0 146.0 L659.0 146.0Z" fill="#feb24c" stroke="#000" stroke-width="0.5" stroke-opacity="0.35"/>
<path d="M378.0 128.0 L385.0 126.0 L395.0 126.0 L400.0 128.0 L392.0 130.0 L386.0 132.0 L380.0 131.0Z" fill="#fed976" stroke="#000" stroke-width="0.5" stroke-opacity="0.35"/>
<path d="M470.0 192.2 L474.2 193.2 L478.5 192.7 L482.7 192.7 L484.8 193.2 L483.2 190.6 L482.7 187.4 L485.9 185.3 L491.2 184.2 L496.5 182.6 L499.6 183.2 L501.8 184.8 L506.0 185.8 L508.1 186.9 L512.4 184.8 L514.5 185.8 L518.7 189.5 L522.9 192.7 L527.2 193.2 L531.4 194.3 L535.7 195.9 L539.9 197.5 L537.8 200.6 L535.7 202.2 L533.5 202.8 L533.0 205.4 L530.9 208.1 L531.4 211.8 L532.5 213.9 L527.2 213.9 L522.9 213.4 L518.7 213.7 L514.5 214.9 L511.3 216.5 L508.1 217.6 L504.9 216.0 L501.8 212.8 L498.6 211.8 L494.4 211.2 L491.2 210.2 L486.9 208.6 L482.7 207.5 L480.1 208.1 L479.5 211.8 L476.4 214.9 L474.2 216.0 L470.0 214.9 L472.0 211.0 L470.0 209.0 L471.0 206.0 L472.0 204.0 L470.0 203.5 L467.0 204.0 L464.0 205.0 L462.0 204.0 L459.0 201.0 L458.0 198.0 L458.0 195.0 L460.0 192.5 L464.0 191.5 L468.0 192.5Z" fill="#ffeda0" stroke="#000" stroke-width="0.5" stroke-opacity="0.35"/>
<path d="M539.9 197.5 L544.1 195.9 L548.4 194.3 L552.6 194.8 L556.8 195.4 L560.0 194.8 L568.0 192.0 L576.0 194.0 L584.0 195.0 L592.0 196.0 L598.0 195.0 L602.0 193.0 L600.0 199.0 L604.0 201.0 L609.0 203.0 L604.0 206.0 L598.0 209.0 L594.0 213.0 L588.0 216.0 L582.0 216.0 L574.0 215.0 L568.0 213.0 L562.0 210.0 L556.0 207.0 L550.0 203.0 L546.0 201.0 L540.0 199.0Z" fill="#ffeda0" stroke="#000" stroke-width="0.5" stroke-opacity="0.35"/>
<path d="M532.5 213.9 L531.4 211.8 L530.9 208.1 L533.0 205.4 L533.5 202.8 L535.7 202.2 L537.8 200.6 L539.9 197.5 L540.0 199.0 L546.0 201.0 L550.0 203.0 L556.0 207.0 L562.0 210.0 L568.0 213.0 L574.0 215.0 L582.0 216.0 L588.0 216.0 L594.0 213.0 L598.0 209.0 L604.0 206.0 L609.0 203.0 L604.0 201.0 L600.0 199.0 L602.0 193.0 L602.0 189.0 L608.0 187.0 L618.0 189.0 L626.0 192.0 L632.0 194.0 L638.0 199.0 L640.0 205.0 L638.0 209.0 L634.0 211.0 L638.0 206.0 L639.0 212.0 L636.0 215.0 L632.0 218.0 L630.0 220.0 L626.0 222.0 L622.0 221.0 L618.0 223.0 L617.0 226.0 L620.0 228.0 L624.0 230.0 L629.0 233.0 L630.0 238.0 L633.0 242.0 L635.0 246.0 L636.0 250.0 L635.0 256.0 L633.0 260.0 L630.0 264.0 L626.0 267.0 L620.0 269.0 L616.0 271.0 L612.0 272.0 L608.0 269.0 L604.0 267.0 L600.0 266.0 L596.0 267.0 L592.0 269.0 L588.0 266.0 L585.0 262.0 L585.0 256.0 L582.0 252.0 L578.0 250.0 L572.0 252.0 L568.0 254.0 L560.0 256.0 L562.0 255.0 L558.0 254.0 L550.0 252.0 L543.0 249.0 L538.0 248.0 L537.0 242.0 L534.0 236.0 L528.0 235.0 L526.0 232.0 L535.7 240.0 L533.5 237.2 L531.4 235.1 L529.3 232.9 L527.2 231.9 L526.1 229.8 L524.0 228.2 L522.9 224.5 L520.8 220.8 L524.0 219.7 L527.2 218.1 L529.3 216.0Z" fill="#ffffcc" stroke="#000" stroke-width="0.5" stroke-opacity="0.35"/>
<path d="M618.0 223.0 L622.0 221.0 L626.0 222.0 L629.0 220.0 L631.0 223.0 L629.0 227.0 L627.0 230.0 L624.0 230.0 L620.0 228.0 L617.0 226.0Z" fill="#ffffff" stroke="#bbbbbb" stroke-width="0.5" stroke-opacity="0.35"/>
<path d="M630.0 219.0 L634.0 217.0 L638.0 215.0 L640.0 217.0 L639.0 220.0 L636.0 223.0 L637.0 226.0 L634.0 226.0 L631.0 223.0Z" fill="#ffffcc" stroke="#000" stroke-width="0.5" stroke-opacity="0.35"/>
<path d="M637.0 226.0 L639.0 225.0 L643.0 228.0 L646.0 232.0 L644.0 236.0 L640.0 236.0 L638.0 232.0Z" fill="#ffeda0" stroke="#000" stroke-width="0.5" stroke-opacity="0.35"/>
<path d="M657.9 208.3 L660.0 209.2 L662.5 210.4 L666.7 210.8 L669.2 212.9 L667.5 214.6 L665.8 216.2 L663.8 215.4 L662.5 216.7 L661.7 217.9 L660.0 217.1 L658.8 215.0 L658.8 212.5Z" fill="#ffeda0" stroke="#000" stroke-width="0.5" stroke-opacity="0.35"/>
<path d="M662.1 218.8 L664.2 219.2 L666.7 221.7 L668.3 225.0 L668.8 228.3 L670.0 230.8 L670.4 234.2 L668.3 235.0 L665.8 235.8 L664.2 237.5 L662.5 238.8 L660.4 237.5 L658.3 236.7 L656.2 237.1 L654.2 238.3 L652.5 239.2 L650.0 240.0 L648.8 239.2 L650.8 236.7 L653.3 234.6 L655.8 233.8 L658.3 233.3 L660.0 232.1 L660.0 229.2 L661.7 227.5 L663.8 225.8 L663.8 223.3 L662.5 220.8Z" fill="#ffeda0" stroke="#000" stroke-width="0.5" stroke-opacity="0.35"/>
<path d="M655.4 238.3 L657.9 237.1 L659.6 237.9 L658.3 239.6 L656.2 240.0Z" fill="#ffeda0" stroke="#000" stroke-width="0.5" stroke-opacity="0.35"/>
<path d="M649.2 239.2 L651.7 238.8 L653.8 240.0 L654.6 242.5 L653.8 245.0 L652.5 244.2 L651.2 241.7 L649.6 240.8Z" fill="#ffeda0" stroke="#000" stroke-width="0.5" stroke-opacity="0.35"/>
<path d="M636.0 262.0 L638.0 261.0 L638.4 267.0 L636.6 269.0 L635.6 266.0Z" fill="#fff" stroke="none"/>
<path d="M636.0 262.0 L638.0 261.0 L638.4 267.0 L636.6 269.0 L635.6 266.0Z" fill="url(#hatch)" stroke="#c8c8c8" stroke-width="0.5"/>
<path d="M611.6 274.0 L615.0 273.0 L616.0 277.0 L613.0 279.0Z" fill="#ffffcc" stroke="#000" stroke-width="0.5" stroke-opacity="0.35"/>
<path d="M480.1 208.1 L482.7 207.5 L486.9 208.6 L491.2 210.2 L494.4 211.2 L498.6 211.8 L501.8 212.8 L504.9 216.0 L508.1 217.6 L511.3 216.5 L512.4 219.2 L510.2 222.4 L508.1 223.9 L504.9 224.5 L501.8 226.6 L499.6 224.5 L495.4 222.4 L491.2 220.2 L486.9 217.1 L485.9 214.9 L483.8 216.5 L480.6 217.6 L479.5 214.9 L479.5 210.7Z" fill="#ffffcc" stroke="#000" stroke-width="0.5" stroke-opacity="0.35"/>
<path d="M476.4 216.0 L479.5 214.9 L480.6 217.6 L483.8 216.5 L485.9 214.9 L486.9 217.1 L491.2 220.2 L495.4 222.4 L499.6 224.5 L501.8 226.6 L500.7 229.8 L498.6 232.9 L495.4 231.9 L491.2 229.8 L486.9 228.2 L482.7 227.6 L478.5 228.7 L476.4 226.6 L477.4 222.4 L475.8 219.2Z" fill="#ffffcc" stroke="#000" stroke-width="0.5" stroke-opacity="0.35"/>
<path d="M511.3 216.5 L514.5 214.9 L518.7 213.7 L522.9 213.4 L527.2 213.9 L532.5 213.9 L529.3 216.0 L527.2 218.1 L524.0 219.7 L520.8 220.8 L517.6 220.2 L514.5 220.8 L512.4 219.2Z" fill="#ffffcc" stroke="#000" stroke-width="0.5" stroke-opacity="0.35"/>
<path d="M508.1 223.9 L510.2 222.4 L512.4 219.2 L514.5 220.8 L517.6 220.2 L520.8 220.8 L522.9 224.5 L524.0 228.2 L520.8 228.7 L517.6 226.6 L514.5 227.1 L512.4 227.6 L510.2 228.7 L508.6 226.6Z" fill="#fff" stroke="none"/>
<path d="M508.1 223.9 L510.2 222.4 L512.4 219.2 L514.5 220.8 L517.6 220.2 L520.8 220.8 L522.9 224.5 L524.0 228.2 L520.8 228.7 L517.6 226.6 L514.5 227.1 L512.4 227.6 L510.2 228.7 L508.6 226.6Z" fill="url(#hatch)" stroke="#c8c8c8" stroke-width="0.5"/>
<path d="M469.0 226.0 L472.0 228.0 L475.0 229.5 L478.0 229.0 L482.0 227.0 L486.0 227.0 L490.0 228.0 L494.0 227.0 L496.0 225.0 L497.0 236.0 L498.0 244.0 L500.0 250.0 L502.0 259.0 L502.5 260.0 L500.8 260.8 L495.8 260.4 L492.5 260.0 L490.8 256.7 L488.8 255.8 L485.8 256.7 L482.5 255.8 L479.2 253.3 L475.8 250.8 L473.3 248.3 L470.8 247.9 L470.0 247.0 L463.0 240.0 L462.0 236.0 L460.0 232.0 L458.0 229.0 L459.0 227.0 L462.0 225.0 L465.0 224.0 L468.0 224.0Z" fill="#ffffcc" stroke="#000" stroke-width="0.5" stroke-opacity="0.35"/>
<path d="M495.4 231.9 L498.6 232.9 L500.7 229.8 L501.8 226.6 L504.9 224.5 L508.1 223.9 L508.6 226.6 L510.2 228.7 L512.4 227.6 L514.5 227.1 L517.6 226.6 L520.8 228.7 L518.7 230.8 L516.6 232.9 L520.0 235.0 L517.0 240.0 L516.0 245.0 L512.0 248.0 L506.0 250.0 L500.0 250.0 L498.0 244.0 L497.0 236.0Z" fill="#ffeda0" stroke="#000" stroke-width="0.5" stroke-opacity="0.35"/>
<path d="M502.0 259.0 L500.0 250.0 L506.0 250.0 L512.0 248.0 L516.0 245.0 L517.0 240.0 L520.0 235.0 L521.0 229.0 L524.0 228.4 L527.0 230.0 L530.0 233.0 L528.0 235.0 L526.0 239.0 L527.0 244.0 L526.0 249.0 L524.0 253.0 L522.0 258.0 L520.0 264.0 L519.0 269.0 L515.0 266.0 L510.0 262.0 L506.0 260.0Z" fill="#ffeda0" stroke="#000" stroke-width="0.5" stroke-opacity="0.35"/>
<path d="M528.0 235.0 L534.0 236.0 L537.0 242.0 L538.0 248.0 L543.0 249.0 L550.0 252.0 L558.0 254.0 L562.0 255.0 L570.0 254.0 L574.0 252.0 L578.0 250.0 L580.0 253.0 L577.0 257.0 L574.0 260.0 L572.0 265.0 L570.0 268.0 L568.0 269.0 L567.0 266.0 L566.0 262.0 L564.0 259.0 L562.0 265.0 L562.0 269.0 L558.0 271.0 L554.0 274.0 L550.0 278.0 L547.0 284.0 L546.0 292.0 L545.0 298.0 L542.0 304.0 L540.0 306.0 L538.0 302.0 L536.0 296.0 L533.0 290.0 L530.0 284.0 L527.0 278.0 L525.0 273.0 L523.0 271.0 L519.0 269.0 L520.0 264.0 L522.0 258.0 L524.0 253.0 L526.0 249.0 L527.0 244.0 L526.0 239.0Z" fill="#fed976" stroke="#000" stroke-width="0.5" stroke-opacity="0.35"/>
<path d="M542.4 248.6 L546.0 247.6 L550.0 248.4 L554.0 250.0 L559.0 252.0 L562.4 254.0 L562.0 255.6 L558.0 254.8 L552.0 253.4 L547.0 252.0 L543.6 250.4Z" fill="#fed976" stroke="#000" stroke-width="0.5" stroke-opacity="0.35"/>
<path d="M564.0 253.6 L568.0 253.0 L570.0 254.4 L566.0 255.2Z" fill="#fed976" stroke="#000" stroke-width="0.5" stroke-opacity="0.35"/>
<path d="M562.5 258.3 L564.6 258.8 L565.8 260.0 L568.8 260.4 L570.8 261.2 L571.2 263.3 L570.4 265.0 L569.6 266.7 L568.3 267.1 L567.5 268.3 L565.8 268.8 L565.0 267.1 L564.2 264.2 L562.9 262.5 L562.5 260.8Z" fill="#feb24c" stroke="#000" stroke-width="0.5" stroke-opacity="0.35"/>
<path d="M548.0 301.0 L550.0 300.0 L552.0 304.0 L552.0 310.0 L549.6 311.0 L548.0 306.0Z" fill="#ffffcc" stroke="#000" stroke-width="0.5" stroke-opacity="0.35"/>
<path d="M574.0 258.0 L578.0 254.0 L581.0 252.0 L584.0 256.0 L585.0 262.0 L588.0 266.0 L590.0 270.0 L592.0 272.0 L588.0 274.0 L586.0 280.0 L588.0 286.0 L590.0 292.0 L592.0 298.0 L591.0 301.0 L588.0 294.0 L585.0 286.0 L582.0 282.0 L579.0 278.0 L576.0 274.0 L574.0 270.0 L572.0 266.0 L571.0 262.0Z" fill="#feb24c" stroke="#000" stroke-width="0.5" stroke-opacity="0.35"/>
<path d="M588.0 274.0 L592.0 272.0 L597.0 270.0 L600.0 272.0 L603.0 276.0 L605.0 282.0 L603.0 286.0 L600.0 288.0 L598.0 292.0 L596.0 294.0 L594.0 298.0 L593.0 304.0 L595.0 308.0 L592.0 309.0 L591.0 304.0 L591.0 298.0 L590.0 292.0 L588.0 286.0 L586.0 280.0Z" fill="#ffffcc" stroke="#000" stroke-width="0.5" stroke-opacity="0.35"/>
<path d="M604.0 267.0 L608.0 269.0 L612.0 272.0 L610.0 274.0 L608.0 278.0 L611.0 284.0 L613.0 289.0 L615.0 294.0 L614.0 299.0 L610.0 302.0 L606.0 303.0 L606.0 299.0 L610.0 295.0 L611.0 290.0 L609.0 287.0 L611.0 284.0 L608.0 278.0 L604.0 272.0Z" fill="#ffffcc" stroke="#000" stroke-width="0.5" stroke-opacity="0.35"/>
<path d="M592.0 272.6 L593.7 270.8 L595.8 269.1 L597.2 272.0 L600.2 273.2 L602.5 274.3 L600.7 276.7 L602.5 278.4 L604.8 281.3 L607.2 283.7 L608.9 286.0 L609.5 288.9 L607.7 290.1 L606.6 288.3 L605.4 286.0 L603.7 283.7 L601.9 281.3 L599.6 280.2 L597.2 279.0 L595.2 280.7 L594.3 279.0 L593.2 276.7 L592.0 274.9Z" fill="#ffeda0" stroke="#000" stroke-width="0.5" stroke-opacity="0.35"/>
<path d="M599.6 290.7 L601.9 289.5 L604.8 289.2 L607.2 290.1 L609.5 289.5 L610.7 291.8 L610.1 294.7 L607.7 296.5 L604.8 297.7 L602.5 297.7 L600.7 295.3 L599.6 293.0Z" fill="#ffeda0" stroke="#000" stroke-width="0.5" stroke-opacity="0.35"/>
<path d="M639.2 278.3 L642.5 278.3 L643.8 281.7 L642.9 285.0 L643.3 288.3 L644.2 290.8 L642.5 291.2 L640.8 289.2 L639.6 286.7 L638.3 284.2 L639.2 281.7Z" fill="#ffffcc" stroke="#000" stroke-width="0.5" stroke-opacity="0.35"/>
<path d="M644.6 289.6 L647.1 290.4 L649.2 292.5 L652.1 294.2 L653.3 297.5 L652.1 300.0 L650.0 299.2 L647.9 297.5 L646.7 295.8 L645.0 294.2 L644.2 291.7Z" fill="#ffffcc" stroke="#000" stroke-width="0.5" stroke-opacity="0.35"/>
<path d="M640.8 291.7 L642.5 292.1 L642.9 294.2 L641.7 294.2Z" fill="#ffffcc" stroke="#000" stroke-width="0.5" stroke-opacity="0.35"/>
<path d="M644.6 296.7 L646.2 297.5 L647.5 300.0 L646.7 301.7 L645.4 300.0Z" fill="#ffffcc" stroke="#000" stroke-width="0.5" stroke-opacity="0.35"/>
<path d="M645.8 306.7 L649.2 305.4 L651.7 303.3 L654.6 302.5 L655.8 305.0 L655.0 309.2 L653.8 312.1 L651.7 310.8 L650.0 308.8 L647.1 308.8Z" fill="#ffffcc" stroke="#000" stroke-width="0.5" stroke-opacity="0.35"/>
<path d="M634.2 305.0 L636.7 301.7 L639.2 298.3 L639.6 299.2 L637.5 302.5 L635.0 305.4Z" fill="#ffffcc" stroke="#000" stroke-width="0.5" stroke-opacity="0.35"/>
<path d="M590.0 300.0 L593.0 304.0 L596.0 310.0 L600.0 316.0 L602.0 322.0 L599.0 323.0 L595.0 318.0 L592.0 312.0 L590.0 306.0Z" fill="#ffffcc" stroke="#000" stroke-width="0.5" stroke-opacity="0.35"/>
<path d="M584.4 313.4 L591.1 315.1 L599.4 323.4 L606.1 331.8 L611.1 340.1 L609.4 343.5 L602.8 340.1 L596.1 331.8 L589.4 323.4 L585.4 318.4Z" fill="#ffffcc" stroke="#000" stroke-width="0.5" stroke-opacity="0.35"/>
<path d="M616.2 325.0 L622.5 321.2 L628.8 317.5 L632.5 313.8 L635.0 310.0 L637.5 311.2 L638.8 317.5 L636.2 325.0 L635.0 332.5 L633.8 336.2 L627.5 337.5 L621.2 336.2 L617.5 331.2Z" fill="#ffffcc" stroke="#000" stroke-width="0.5" stroke-opacity="0.35"/>
<path d="M640.0 327.5 L645.0 325.0 L651.2 323.8 L652.5 326.2 L646.2 328.8 L645.0 332.5 L648.8 336.2 L647.5 341.2 L643.8 342.5 L641.2 338.8 L640.0 333.8Z" fill="#ffffcc" stroke="#000" stroke-width="0.5" stroke-opacity="0.35"/>
<path d="M608.8 342.5 L615.0 343.8 L622.5 346.2 L630.0 348.8 L627.5 350.5 L620.0 350.0 L612.5 347.5 L608.8 345.0Z" fill="#ffffcc" stroke="#000" stroke-width="0.5" stroke-opacity="0.35"/>
<path d="M633.8 350.0 L640.0 349.2 L647.5 348.8 L652.5 349.5 L647.5 352.0 L640.0 352.5 L635.0 352.0Z" fill="#ffffcc" stroke="#000" stroke-width="0.5" stroke-opacity="0.35"/>
<path d="M650.0 351.2 L657.5 348.8 L656.2 351.2 L651.2 353.2Z" fill="#ffffcc" stroke="#000" stroke-width="0.5" stroke-opacity="0.35"/>
<path d="M667.5 330.0 L672.5 328.8 L677.5 331.2 L685.0 331.2 L690.0 333.8 L690.0 351.2 L685.0 350.0 L681.2 346.2 L676.2 341.2 L673.8 337.5 L670.0 335.0Z" fill="#ffffcc" stroke="#000" stroke-width="0.5" stroke-opacity="0.35"/>
<path d="M658.8 322.5 L661.2 322.0 L662.5 327.5 L660.0 328.0Z" fill="#ffffcc" stroke="#000" stroke-width="0.5" stroke-opacity="0.35"/>
<path d="M690.0 333.8 L697.5 335.0 L702.5 340.0 L706.2 343.8 L710.0 348.8 L712.0 355.5 L707.5 353.8 L703.8 350.0 L700.0 348.8 L695.0 350.0 L690.0 351.2Z" fill="#fd8d3c" stroke="#000" stroke-width="0.5" stroke-opacity="0.35"/>
<path d="M707.0 343.0 L712.5 340.0 L716.2 335.0 L718.8 337.5 L715.0 341.8 L710.0 343.8Z" fill="#fd8d3c" stroke="#000" stroke-width="0.5" stroke-opacity="0.35"/>
<path d="M721.2 341.2 L725.0 343.8 L730.0 347.5 L733.8 350.0 L737.5 355.0 L733.8 353.8 L728.8 350.0 L723.8 346.2Z" fill="#fd8d3c" stroke="#000" stroke-width="0.5" stroke-opacity="0.35"/>
<path d="M770.0 373.8 L773.8 371.2 L776.2 370.5 L773.8 373.2Z" fill="#fd8d3c" stroke="#000" stroke-width="0.5" stroke-opacity="0.35"/>
<path d="M616.2 417.5 L617.5 407.5 L618.8 397.5 L620.0 390.0 L622.5 385.0 L630.0 382.5 L637.5 378.8 L642.5 375.0 L647.5 370.0 L655.0 365.0 L660.0 362.5 L665.0 361.2 L668.8 357.5 L675.0 358.8 L678.8 361.2 L677.5 365.0 L683.8 372.5 L687.5 367.5 L690.0 362.5 L691.2 356.2 L693.8 357.5 L695.0 365.0 L697.5 372.5 L702.5 380.0 L706.2 387.5 L708.8 395.0 L707.5 405.0 L705.0 412.5 L700.0 420.0 L695.0 426.2 L690.0 428.8 L682.5 430.0 L675.0 428.8 L670.0 422.5 L666.2 416.2 L662.5 413.8 L657.5 412.5 L650.0 412.5 L640.0 413.8 L632.5 416.2 L625.0 418.8 L618.8 420.0Z" fill="#fed976" stroke="#000" stroke-width="0.5" stroke-opacity="0.35"/>
<path d="M670.0 436.2 L676.2 435.0 L678.8 438.8 L675.0 440.5 L671.2 440.5Z" fill="#fed976" stroke="#000" stroke-width="0.5" stroke-opacity="0.35"/>
<path d="M742.4 418.3 L743.5 418.6 L744.3 422.0 L745.0 423.9 L744.3 425.0 L746.5 426.9 L749.5 426.5 L748.8 428.0 L746.5 429.5 L744.3 431.8 L742.0 433.3 L739.8 434.8 L736.8 436.3 L735.3 436.6 L736.4 434.8 L738.3 432.5 L737.1 431.0 L739.0 429.9 L740.9 428.0 L742.8 425.8 L743.1 422.8 L742.4 420.5Z" fill="#fed976" stroke="#000" stroke-width="0.5" stroke-opacity="0.35"/>
<path d="M731.5 434.4 L733.0 434.8 L733.4 436.3 L731.5 437.0 L729.3 438.5 L726.3 440.8 L726.6 442.3 L724.0 443.0 L721.8 444.1 L718.0 446.0 L715.0 447.9 L712.0 449.4 L709.0 449.4 L708.3 448.3 L711.3 446.8 L715.0 444.9 L718.8 443.0 L722.5 440.8 L726.3 438.9 L729.3 436.3Z" fill="#fed976" stroke="#000" stroke-width="0.5" stroke-opacity="0.35"/>
<path d="M737.5 380.0 L739.5 380.5 L743.0 385.0 L741.2 386.0 L738.5 382.5Z" fill="#fff" stroke="none"/>
<path d="M737.5 380.0 L739.5 380.5 L743.0 385.0 L741.2 386.0 L738.5 382.5Z" fill="url(#hatch)" stroke="#c8c8c8" stroke-width="0.5"/>
<path d="M746.2 366.2 L747.5 366.5 L748.2 370.5 L747.0 370.5Z" fill="#fff" stroke="none"/>
<path d="M746.2 366.2 L747.5 366.5 L748.2 370.5 L747.0 370.5Z" fill="url(#hatch)" stroke="#c8c8c8" stroke-width="0.5"/>
<path d="M492.0 379.0 L494.0 379.0 L494.0 381.0 L492.0 381.0Z" fill="#ffffcc" stroke="#000" stroke-width="0.5" stroke-opacity="0.35"/>
<path d="M489.5 381.5 L491.0 381.5 L491.0 383.0 L489.5 383.0Z" fill="#ffffcc" stroke="#000" stroke-width="0.5" stroke-opacity="0.35"/>
<path d="M501.0 455.5 L505.0 455.0 L506.0 457.0 L502.0 457.5Z" fill="#fff" stroke="none"/>
<path d="M501.0 455.5 L505.0 455.0 L506.0 457.0 L502.0 457.5Z" fill="url(#hatch)" stroke="#c8c8c8" stroke-width="0.5"/>
<path d="M466.0 358.0 L468.0 358.0 L468.0 360.0 L466.0 360.0Z" fill="#ffffcc" stroke="#000" stroke-width="0.5" stroke-opacity="0.35"/>
<path d="M350.0 233.1 L354.0 234.0 L362.0 232.0 L370.0 231.0 L380.0 230.0 L384.0 229.0 L386.0 232.0 L385.0 238.0 L390.0 240.0 L396.0 241.0 L402.0 243.0 L410.0 241.0 L418.0 242.0 L426.0 243.0 L434.0 244.0 L436.0 246.0 L435.0 249.4 L437.5 255.0 L441.2 261.2 L444.4 267.5 L446.2 269.4 L448.7 275.0 L451.9 280.0 L455.0 283.7 L457.0 287.5 L460.0 292.5 L462.0 296.0 L470.0 296.0 L478.0 295.0 L480.0 298.0 L478.0 304.0 L474.0 312.0 L468.0 318.0 L462.0 324.0 L458.0 328.0 L454.0 332.0 L450.0 338.0 L452.0 339.0 L453.0 346.0 L454.0 356.0 L456.0 360.0 L456.0 368.0 L452.0 372.0 L446.0 376.0 L442.0 380.0 L442.0 386.0 L440.0 392.0 L436.0 394.0 L435.0 395.0 L434.0 400.0 L430.0 406.0 L424.0 412.0 L416.0 416.0 L408.0 418.0 L403.0 418.0 L401.0 412.0 L400.0 406.0 L398.0 398.0 L396.0 390.0 L393.0 382.0 L390.0 373.0 L390.0 368.0 L392.0 360.0 L393.0 352.0 L391.0 346.0 L390.0 340.0 L386.0 339.0 L385.0 334.0 L386.0 328.0 L384.0 322.0 L385.0 320.0 L384.0 317.0 L382.0 314.0 L378.0 315.0 L375.0 314.0 L372.0 311.0 L368.0 311.0 L362.0 312.0 L355.0 314.0 L350.0 314.0 L344.0 315.0 L339.0 312.0 L335.0 307.0 L332.0 302.0 L330.0 300.0 L328.8 300.0 L326.3 296.3 L323.8 292.5 L321.9 288.8 L323.8 283.8 L324.4 277.5 L323.8 271.3 L326.3 265.0 L330.0 258.8 L333.8 254.4 L338.8 250.0 L340.6 245.0 L342.5 240.0 L346.3 235.0Z" fill="#ffffcc" stroke="#000" stroke-width="0.5" stroke-opacity="0.35"/>
<path d="M336.0 245.0 L342.0 239.0 L348.0 236.0 L354.0 234.0 L358.0 234.0 L359.0 241.0 L354.0 246.0 L348.0 252.0 L342.0 255.0 L336.0 257.0 L333.0 255.0Z" fill="#ffffcc" stroke="#000" stroke-width="0.5" stroke-opacity="0.35"/>
<path d="M354.0 234.0 L362.0 232.0 L370.0 231.0 L380.0 230.0 L382.0 236.0 L384.0 240.0 L384.0 248.0 L385.0 256.0 L388.0 264.0 L382.0 268.0 L376.0 271.0 L371.0 276.0 L365.0 274.0 L354.0 267.0 L348.0 262.0 L343.0 257.0 L348.0 252.0 L354.0 246.0 L359.0 241.0 L358.0 234.0Z" fill="#ffffcc" stroke="#000" stroke-width="0.5" stroke-opacity="0.35"/>
<path d="M380.0 230.0 L384.0 229.0 L386.0 232.0 L385.0 238.0 L384.0 240.0 L382.0 236.0Z" fill="#ffffcc" stroke="#000" stroke-width="0.5" stroke-opacity="0.35"/>
<path d="M418.0 242.0 L426.0 243.0 L434.0 244.0 L436.0 245.0 L435.0 249.4 L437.4 255.0 L441.2 261.2 L444.0 267.4 L446.4 269.5 L419.0 269.5 L419.0 248.0Z" fill="#ffffcc" stroke="#000" stroke-width="0.5" stroke-opacity="0.35"/>
<path d="M396.0 268.0 L406.0 269.0 L414.0 272.0 L419.0 274.0 L418.0 278.0 L416.0 284.0 L414.0 292.0 L418.0 299.0 L416.0 302.0 L410.0 303.0 L404.0 306.0 L398.0 310.0 L396.0 304.0 L394.0 296.0 L396.0 290.0 L395.0 286.0 L394.0 280.0Z" fill="#ffffcc" stroke="#000" stroke-width="0.5" stroke-opacity="0.35"/>
<path d="M371.0 276.0 L376.0 271.0 L382.0 268.0 L388.0 264.0 L396.0 268.0 L394.0 280.0 L395.0 286.0 L396.0 290.0 L390.0 292.0 L384.0 291.0 L378.0 291.0 L372.0 292.0 L370.0 288.0 L372.0 282.0Z" fill="#ffffcc" stroke="#000" stroke-width="0.5" stroke-opacity="0.35"/>
<path d="M348.0 262.0 L354.0 267.0 L365.0 274.0 L371.0 276.0 L372.0 282.0 L370.0 288.0 L366.0 289.0 L362.0 288.0 L358.0 289.0 L354.0 292.0 L350.0 292.0 L349.0 286.0 L349.0 276.0 L350.0 264.0Z" fill="#ffffcc" stroke="#000" stroke-width="0.5" stroke-opacity="0.35"/>
<path d="M336.0 258.0 L342.0 257.0 L348.0 262.0 L350.0 264.0 L349.0 276.0 L349.0 286.0 L342.0 286.0 L336.0 284.0 L332.0 281.0 L333.0 274.0 L334.0 268.0Z" fill="#ffffcc" stroke="#000" stroke-width="0.5" stroke-opacity="0.35"/>
<path d="M372.0 292.0 L378.0 291.0 L384.0 291.0 L390.0 292.0 L396.0 290.0 L397.0 298.0 L394.0 302.0 L390.0 306.0 L388.0 312.0 L384.0 314.0 L380.0 312.0 L376.0 308.0 L372.0 308.0 L371.0 300.0Z" fill="#ffffcc" stroke="#000" stroke-width="0.5" stroke-opacity="0.35"/>
<path d="M442.0 296.0 L446.0 290.0 L450.0 289.0 L454.0 290.0 L458.0 294.0 L462.0 298.0 L468.0 304.0 L472.0 308.0 L468.0 312.0 L462.0 314.0 L456.0 316.0 L450.0 316.0 L446.0 314.0 L443.0 310.0 L442.0 304.0Z" fill="#ffffcc" stroke="#000" stroke-width="0.5" stroke-opacity="0.35"/>
<path d="M450.0 282.6 L451.6 283.0 L455.0 287.4 L460.0 292.6 L458.0 294.0 L454.0 290.0 L450.0 289.0Z" fill="#ffffcc" stroke="#000" stroke-width="0.5" stroke-opacity="0.35"/>
<path d="M450.0 316.0 L456.0 316.0 L462.0 314.0 L458.0 318.0 L456.0 324.0 L458.0 328.0 L454.0 332.0 L450.0 338.0 L444.0 332.0 L442.0 326.0 L443.0 320.0 L444.0 316.0Z" fill="#ffffcc" stroke="#000" stroke-width="0.5" stroke-opacity="0.35"/>
<path d="M390.0 306.0 L394.0 302.0 L397.0 298.0 L398.0 304.0 L399.0 310.0 L398.0 316.0 L400.0 318.0 L399.0 322.0 L394.0 322.0 L388.0 322.0 L386.0 318.0 L388.0 312.0Z" fill="#ffffcc" stroke="#000" stroke-width="0.5" stroke-opacity="0.35"/>
<path d="M400.0 318.0 L406.0 316.0 L412.0 313.0 L418.0 314.0 L424.0 316.0 L428.0 313.0 L434.0 314.0 L433.0 318.0 L433.0 322.0 L432.0 330.0 L433.0 326.0 L431.0 336.0 L430.0 340.0 L431.0 346.0 L434.0 352.0 L429.0 352.0 L424.0 355.0 L419.0 357.0 L413.0 358.0 L413.0 349.0 L406.0 348.0 L400.0 343.0 L391.0 342.0 L390.0 340.0 L387.0 339.0 L388.0 332.0 L394.0 328.0 L394.0 322.0 L399.0 322.0Z" fill="#ffffcc" stroke="#000" stroke-width="0.5" stroke-opacity="0.35"/>
<path d="M433.0 318.0 L438.0 317.5 L443.0 317.5 L443.0 324.0 L442.7 330.7 L436.0 331.0 L432.7 330.7 L432.0 324.0Z" fill="#ffffcc" stroke="#000" stroke-width="0.5" stroke-opacity="0.35"/>
<path d="M395.3 318.7 L400.7 318.7 L405.3 316.0 L406.0 320.0 L404.0 324.0 L402.0 329.3 L400.0 334.7 L398.0 338.7 L394.0 341.3 L390.7 339.3 L392.0 336.0 L395.3 333.3 L394.7 326.7 L393.3 322.7Z" fill="#ffffcc" stroke="#000" stroke-width="0.5" stroke-opacity="0.35"/>
<path d="M432.0 332.0 L440.0 331.0 L448.0 334.0 L452.0 339.0 L453.0 346.0 L454.0 356.0 L444.0 358.0 L438.0 355.0 L434.0 352.0 L431.0 346.0 L430.0 340.0 L431.0 336.0Z" fill="#ffffcc" stroke="#000" stroke-width="0.5" stroke-opacity="0.35"/>
<path d="M413.0 358.0 L419.0 357.0 L424.0 355.0 L429.0 352.0 L429.0 359.0 L432.0 363.0 L434.0 368.0 L430.0 371.0 L426.0 374.0 L422.0 378.0 L419.0 374.0 L416.0 373.0 L413.0 366.0 L414.0 357.0Z" fill="#ffffcc" stroke="#000" stroke-width="0.5" stroke-opacity="0.35"/>
<path d="M422.0 378.0 L426.0 374.0 L430.0 371.0 L435.0 369.0 L438.0 373.0 L437.0 380.0 L434.0 384.0 L429.0 386.0 L426.0 382.0Z" fill="#ffffcc" stroke="#000" stroke-width="0.5" stroke-opacity="0.35"/>
<path d="M439.0 353.0 L442.0 355.0 L443.0 361.0 L444.0 368.0 L441.0 369.0 L440.0 364.0 L439.0 358.0Z" fill="#ffffcc" stroke="#000" stroke-width="0.5" stroke-opacity="0.35"/>
<path d="M322.0 288.0 L324.0 284.0 L328.0 283.0 L331.0 283.5 L333.0 286.0 L335.0 288.0 L335.0 294.0 L330.0 295.0 L325.5 295.0 L323.5 291.5Z" fill="#ffffcc" stroke="#000" stroke-width="0.5" stroke-opacity="0.35"/>
<path d="M324.0 290.5 L330.0 290.5 L330.0 292.2 L324.0 292.5Z" fill="#ffffcc" stroke="#000" stroke-width="0.5" stroke-opacity="0.35"/>
<path d="M343.0 299.0 L347.0 299.0 L350.0 300.0 L352.0 301.0 L355.0 299.0 L355.5 304.0 L355.0 314.0 L350.0 314.0 L344.0 315.0 L343.0 310.0 L343.5 304.0Z" fill="#ffffcc" stroke="#000" stroke-width="0.5" stroke-opacity="0.35"/>
<path d="M355.0 299.0 L360.0 298.0 L363.0 298.5 L364.0 303.0 L363.5 311.0 L362.0 312.0 L355.0 314.0 L355.5 304.0Z" fill="#ffffcc" stroke="#000" stroke-width="0.5" stroke-opacity="0.35"/>
<path d="M363.0 298.5 L365.0 298.5 L365.5 310.0 L363.5 311.0 L364.0 303.0Z" fill="#ffffcc" stroke="#000" stroke-width="0.5" stroke-opacity="0.35"/>
<path d="M365.0 298.5 L368.0 297.0 L370.0 295.0 L370.5 300.0 L369.0 305.0 L369.0 311.0 L365.5 310.0Z" fill="#ffffcc" stroke="#000" stroke-width="0.5" stroke-opacity="0.35"/>
<path d="M337.5 305.0 L340.0 307.0 L342.0 308.0 L344.0 315.0 L339.0 312.0 L335.0 307.0Z" fill="#ffffcc" stroke="#000" stroke-width="0.5" stroke-opacity="0.35"/>
<path d="M439.0 250.0 L439.0 253.0 L442.0 256.0 L446.0 262.0 L450.0 266.0 L451.5 270.0 L454.0 275.0 L457.0 279.0 L460.0 284.0 L462.0 290.0 L462.5 294.0 L468.0 292.0 L476.7 289.2 L482.5 286.7 L484.2 283.3 L488.3 281.7 L491.7 279.2 L494.2 276.7 L495.8 273.3 L497.9 270.8 L498.3 268.3 L495.0 265.8 L491.7 264.2 L490.8 261.7 L490.4 259.2 L489.6 257.9 L489.2 260.0 L487.5 262.5 L485.0 264.2 L481.7 265.0 L480.0 263.3 L478.3 260.0 L476.7 258.3 L474.2 255.0 L471.7 251.7 L470.8 247.9 L469.5 246.9 L468.1 243.3 L466.0 240.5 L463.2 237.0 L462.5 234.2 L461.0 230.6 L458.9 228.5 L454.7 229.2 L451.2 229.9 L447.6 230.3 L442.7 230.6 L440.6 232.0 L439.9 236.3 L439.2 241.2 L439.2 246.2 L439.9 249.0Z" fill="#ffffcc" stroke="#000" stroke-width="0.5" stroke-opacity="0.35"/>
<path d="M451.2 229.9 L454.7 229.2 L458.9 228.5 L461.0 230.6 L462.5 234.2 L463.2 237.0 L466.0 240.5 L468.1 243.3 L469.5 246.9 L470.8 247.9 L469.5 248.6 L466.7 250.8 L462.5 250.4 L459.6 248.3 L456.8 245.5 L452.6 242.6 L449.1 240.2 L452.6 236.3 L452.9 233.5 L453.3 230.1Z" fill="#ffffcc" stroke="#000" stroke-width="0.5" stroke-opacity="0.35"/>
<path d="M488.3 265.0 L489.2 268.3 L488.3 273.3 L482.5 278.3 L484.2 283.3 L485.0 283.3 L488.3 281.7 L491.7 279.2 L494.2 276.7 L495.8 273.3 L497.9 270.8 L498.3 268.3 L495.0 265.8 L491.7 264.2 L490.8 261.7 L490.4 259.2 L489.6 257.9 L489.2 260.0 L487.5 262.5Z" fill="#ffffcc" stroke="#000" stroke-width="0.5" stroke-opacity="0.35"/>
<path d="M481.7 265.0 L485.0 264.2 L487.5 262.5 L489.2 260.0 L489.6 262.0 L488.3 265.0 L489.2 268.3 L486.0 267.5 L482.0 267.0Z" fill="#ffffcc" stroke="#000" stroke-width="0.5" stroke-opacity="0.35"/>
<path d="M441.3 230.3 L453.3 230.1 L452.9 233.5 L452.6 236.3 L449.1 240.0 L446.2 240.5 L443.1 240.2 L441.3 241.2 L440.6 236.3 L440.9 232.8Z" fill="#fff" stroke="none"/>
<path d="M441.3 230.3 L453.3 230.1 L452.9 233.5 L452.6 236.3 L449.1 240.0 L446.2 240.5 L443.1 240.2 L441.3 241.2 L440.6 236.3 L440.9 232.8Z" fill="url(#hatch)" stroke="#c8c8c8" stroke-width="0.5"/>
<path d="M440.2 236.3 L442.4 235.9 L443.1 237.4 L441.3 239.8 L439.9 239.5Z" fill="#fc4e2a" stroke="#000" stroke-width="0.5" stroke-opacity="0.35"/>
<path d="M440.6 241.2 L444.1 240.9 L449.1 240.2 L449.4 241.9 L446.9 245.5 L446.6 247.6 L444.8 249.0 L441.3 249.0 L439.9 246.2 L439.5 243.3Z" fill="#fed976" stroke="#000" stroke-width="0.5" stroke-opacity="0.35"/>
<path d="M439.2 241.2 L440.6 241.2 L440.2 246.2 L440.2 249.7 L439.5 249.0 L438.8 244.8Z" fill="#fff" stroke="none"/>
<path d="M439.2 241.2 L440.6 241.2 L440.2 246.2 L440.2 249.7 L439.5 249.0 L438.8 244.8Z" fill="url(#hatch)" stroke="#c8c8c8" stroke-width="0.5"/>
<path d="M461.7 281.7 L470.8 280.8 L481.7 277.9 L482.5 278.3 L484.2 283.3 L482.5 286.7 L476.7 289.2 L468.0 292.0 L462.5 294.0 L462.0 290.0 L460.5 285.0Z" fill="#ffeda0" stroke="#000" stroke-width="0.5" stroke-opacity="0.35"/>
<path d="M333.8 254.4 L342.5 254.4 L343.1 257.5 L335.6 258.8 L333.8 263.8 L332.5 267.5 L331.3 271.3 L323.8 271.3 L326.3 265.0 L330.0 258.8Z" fill="#fff" stroke="none"/>
<path d="M333.8 254.4 L342.5 254.4 L343.1 257.5 L335.6 258.8 L333.8 263.8 L332.5 267.5 L331.3 271.3 L323.8 271.3 L326.3 265.0 L330.0 258.8Z" fill="url(#hatch)" stroke="#c8c8c8" stroke-width="0.5"/>
<path d="M385.0 238.0 L390.0 240.0 L396.0 241.0 L402.0 243.0 L410.0 241.0 L418.0 242.0 L419.0 248.0 L419.0 274.0 L414.0 272.0 L406.0 269.0 L398.0 266.0 L388.0 264.0 L385.0 256.0 L384.0 248.0 L384.0 240.0Z" fill="#fff" stroke="none"/>
<path d="M385.0 238.0 L390.0 240.0 L396.0 241.0 L402.0 243.0 L410.0 241.0 L418.0 242.0 L419.0 248.0 L419.0 274.0 L414.0 272.0 L406.0 269.0 L398.0 266.0 L388.0 264.0 L385.0 256.0 L384.0 248.0 L384.0 240.0Z" fill="url(#hatch)" stroke="#c8c8c8" stroke-width="0.5"/>
<path d="M419.0 269.5 L446.4 269.5 L448.6 275.0 L451.0 280.0 L450.4 283.0 L444.0 290.0 L442.0 296.0 L438.0 299.0 L434.0 296.0 L428.0 299.0 L422.0 300.0 L418.0 299.0 L414.0 292.0 L416.0 284.0 L418.0 278.0 L419.0 274.0Z" fill="#fff" stroke="none"/>
<path d="M419.0 269.5 L446.4 269.5 L448.6 275.0 L451.0 280.0 L450.4 283.0 L444.0 290.0 L442.0 296.0 L438.0 299.0 L434.0 296.0 L428.0 299.0 L422.0 300.0 L418.0 299.0 L414.0 292.0 L416.0 284.0 L418.0 278.0 L419.0 274.0Z" fill="url(#hatch)" stroke="#c8c8c8" stroke-width="0.5"/>
<path d="M418.0 299.0 L422.0 300.0 L428.0 299.0 L434.0 296.0 L438.0 299.0 L442.0 304.0 L443.0 310.0 L439.0 317.0 L434.0 317.6 L428.0 315.0 L424.0 310.0 L421.0 306.0Z" fill="#fff" stroke="none"/>
<path d="M418.0 299.0 L422.0 300.0 L428.0 299.0 L434.0 296.0 L438.0 299.0 L442.0 304.0 L443.0 310.0 L439.0 317.0 L434.0 317.6 L428.0 315.0 L424.0 310.0 L421.0 306.0Z" fill="url(#hatch)" stroke="#c8c8c8" stroke-width="0.5"/>
<path d="M398.0 310.0 L404.0 306.0 L410.0 303.0 L416.0 302.0 L421.0 306.0 L424.0 310.0 L428.0 313.0 L424.0 316.0 L418.0 314.0 L412.0 313.0 L406.0 316.0 L400.0 318.0Z" fill="#fff" stroke="none"/>
<path d="M398.0 310.0 L404.0 306.0 L410.0 303.0 L416.0 302.0 L421.0 306.0 L424.0 310.0 L428.0 313.0 L424.0 316.0 L418.0 314.0 L412.0 313.0 L406.0 316.0 L400.0 318.0Z" fill="url(#hatch)" stroke="#c8c8c8" stroke-width="0.5"/>
<path d="M461.0 295.0 L470.0 296.0 L478.0 295.0 L480.0 298.0 L478.0 304.0 L474.0 312.0 L468.0 318.0 L462.0 324.0 L458.0 328.0 L456.0 324.0 L458.0 318.0 L462.0 314.0 L468.0 312.0 L472.0 308.0 L468.0 304.0 L462.0 298.0Z" fill="#fff" stroke="none"/>
<path d="M461.0 295.0 L470.0 296.0 L478.0 295.0 L480.0 298.0 L478.0 304.0 L474.0 312.0 L468.0 318.0 L462.0 324.0 L458.0 328.0 L456.0 324.0 L458.0 318.0 L462.0 314.0 L468.0 312.0 L472.0 308.0 L468.0 304.0 L462.0 298.0Z" fill="url(#hatch)" stroke="#c8c8c8" stroke-width="0.5"/>
<path d="M383.0 321.0 L394.0 321.0 L394.0 328.0 L392.0 333.0 L389.0 336.0 L386.0 337.0 L385.0 334.0 L386.0 328.0 L384.0 322.0Z" fill="#fff" stroke="none"/>
<path d="M383.0 321.0 L394.0 321.0 L394.0 328.0 L392.0 333.0 L389.0 336.0 L386.0 337.0 L385.0 334.0 L386.0 328.0 L384.0 322.0Z" fill="url(#hatch)" stroke="#c8c8c8" stroke-width="0.5"/>
<path d="M391.0 342.0 L400.0 343.0 L406.0 348.0 L413.0 349.0 L414.0 357.0 L413.0 366.0 L416.0 373.0 L410.0 374.0 L400.0 373.0 L390.0 373.0 L390.0 368.0 L392.0 360.0 L393.0 352.0 L391.0 346.0Z" fill="#fff" stroke="none"/>
<path d="M391.0 342.0 L400.0 343.0 L406.0 348.0 L413.0 349.0 L414.0 357.0 L413.0 366.0 L416.0 373.0 L410.0 374.0 L400.0 373.0 L390.0 373.0 L390.0 368.0 L392.0 360.0 L393.0 352.0 L391.0 346.0Z" fill="url(#hatch)" stroke="#c8c8c8" stroke-width="0.5"/>
<path d="M438.0 355.0 L444.0 358.0 L454.0 356.0 L456.0 360.0 L456.0 368.0 L452.0 372.0 L446.0 376.0 L442.0 380.0 L442.0 386.0 L440.0 392.0 L436.0 394.0 L435.0 389.0 L435.0 382.0 L437.0 380.0 L438.0 373.0 L435.0 369.0 L440.0 369.0 L443.0 368.0 L441.0 362.0 L439.0 358.0Z" fill="#fff" stroke="none"/>
<path d="M438.0 355.0 L444.0 358.0 L454.0 356.0 L456.0 360.0 L456.0 368.0 L452.0 372.0 L446.0 376.0 L442.0 380.0 L442.0 386.0 L440.0 392.0 L436.0 394.0 L435.0 389.0 L435.0 382.0 L437.0 380.0 L438.0 373.0 L435.0 369.0 L440.0 369.0 L443.0 368.0 L441.0 362.0 L439.0 358.0Z" fill="url(#hatch)" stroke="#c8c8c8" stroke-width="0.5"/>
<path d="M390.0 373.0 L400.0 373.0 L410.0 374.0 L416.0 373.0 L419.0 374.0 L412.0 375.0 L409.0 376.0 L408.0 388.0 L408.0 402.0 L405.0 403.0 L401.0 403.0 L398.0 398.0 L396.0 390.0 L393.0 382.0Z" fill="#ffeda0" stroke="#000" stroke-width="0.5" stroke-opacity="0.35"/>
<path d="M409.0 376.0 L412.0 375.0 L419.0 374.0 L422.0 378.0 L426.0 382.0 L429.0 386.0 L424.0 389.0 L420.0 393.0 L415.0 395.0 L411.0 397.0 L408.0 394.0 L408.0 388.0Z" fill="#ffeda0" stroke="#000" stroke-width="0.5" stroke-opacity="0.35"/>
<path d="M401.0 403.0 L405.0 403.0 L408.0 402.0 L408.0 394.0 L411.0 397.0 L415.0 395.0 L420.0 393.0 L424.0 389.0 L429.0 386.0 L433.0 386.0 L435.0 389.0 L435.0 395.0 L434.0 400.0 L430.0 406.0 L424.0 412.0 L416.0 416.0 L408.0 418.0 L403.0 418.0 L401.0 412.0 L400.0 406.0Z" fill="#ffeda0" stroke="#000" stroke-width="0.5" stroke-opacity="0.35"/>
<path d="M423.0 405.0 L426.0 403.0 L428.0 405.6 L425.0 408.0Z" fill="#ffeda0" stroke="#000" stroke-width="0.5" stroke-opacity="0.35"/>
<path d="M433.0 394.0 L434.4 393.0 L435.2 395.0 L433.6 396.0Z" fill="#ffffcc" stroke="#000" stroke-width="0.5" stroke-opacity="0.35"/>
<path d="M476.0 360.0 L478.0 362.0 L479.0 368.0 L476.0 374.0 L473.0 382.0 L470.0 390.0 L466.0 394.0 L462.0 392.0 L462.0 384.0 L464.0 376.0 L464.0 370.0 L468.0 368.0 L473.0 365.0Z" fill="#fed976" stroke="#000" stroke-width="0.5" stroke-opacity="0.35"/>
<path d="M430.0 331.0 L433.0 330.0 L433.6 335.0 L431.0 337.0Z" fill="#ffeda0" stroke="#000" stroke-width="0.5" stroke-opacity="0.35"/>
<path d="M328.0 297.0 L334.0 295.0 L340.0 296.5 L343.0 299.0 L343.5 304.0 L342.0 308.0 L340.0 307.0 L338.0 304.0 L337.0 301.0 L333.0 299.0 L330.0 300.0Z" fill="#fff" stroke="none"/>
<path d="M328.0 297.0 L334.0 295.0 L340.0 296.5 L343.0 299.0 L343.5 304.0 L342.0 308.0 L340.0 307.0 L338.0 304.0 L337.0 301.0 L333.0 299.0 L330.0 300.0Z" fill="url(#hatch)" stroke="#c8c8c8" stroke-width="0.5"/>
<path d="M332.0 302.0 L335.0 301.0 L337.0 302.0 L337.5 305.0 L335.5 308.5 L333.0 307.0 L331.5 304.5Z" fill="#ffeda0" stroke="#000" stroke-width="0.5" stroke-opacity="0.35"/>
<path d="M350.0 297.0 L353.0 292.0 L358.0 289.0 L362.0 288.0 L364.0 290.0 L367.0 294.0 L370.0 295.0 L368.0 297.0 L364.0 298.0 L360.0 298.0 L355.0 299.0 L352.0 301.0 L350.0 300.0Z" fill="#ffeda0" stroke="#000" stroke-width="0.5" stroke-opacity="0.35"/>
</g>
<g id="legend">
<rect x="157" y="517" width="47.5" height="11" fill="url(#hatch)" stroke="#bbb" stroke-width="0.8"/>
<rect x="224.3" y="517" width="58.6" height="11" fill="#ffffcc"/>
<rect x="282.9" y="517" width="58.6" height="11" fill="#ffeda0"/>
<rect x="341.5" y="517" width="58.6" height="11" fill="#fed976"/>
<rect x="400.1" y="517" width="58.6" height="11" fill="#feb24c"/>
<rect x="458.7" y="517" width="58.6" height="11" fill="#fd8d3c"/>
<rect x="517.3" y="517" width="58.6" height="11" fill="#fc4e2a"/>
<rect x="575.9" y="517" width="58.6" height="11" fill="#e31a1c"/>
<path d="M634.5 517 L688 517 L693 522.5 L688 528 L634.5 528 Z" fill="#b10026"/>
<path d="M224.3 517 V528 M282.9 517 V528 M341.5 517 V528 M400.1 517 V528 M458.7 517 V528 M517.3 517 V528 M575.9 517 V528 M634.5 517 V528" stroke="#999" stroke-width="0.6" fill="none"/>
<rect x="224.3" y="517" width="410.2" height="11" fill="none" stroke="#999" stroke-width="0.5"/>
<path d="M180.8 512.5 V517 M224.3 512.5 V517 M282.9 512.5 V517 M341.5 512.5 V517 M400.1 512.5 V517 M458.7 512.5 V517 M517.3 512.5 V517 M575.9 512.5 V517 M634.5 512.5 V517" stroke="#aaa" stroke-width="0.7" fill="none"/>
</g>
</svg>
<div class="t lg" style="left:157px;">No data</div>
<div class="t lg" style="left:214px;">0%</div>
<div class="t lg" style="left:273px;">5%</div>
<div class="t lg" style="left:328px;">10%</div>
<div class="t lg" style="left:387px;">15%</div>
<div class="t lg" style="left:445px;">20%</div>
<div class="t lg" style="left:504px;">25%</div>
<div class="t lg" style="left:563px;">30%</div>
<div class="t lg" style="left:621px;">35%</div>
<div class="t ft" style="left:16.5px;top:548.7px"><b>Data source:</b> World Health Organization - Global Health Observatory (2024)</div>
<div class="t ft" style="left:16.5px;top:569.1px"><b>Note:</b> To allow for comparisons between countries and over time, this metric is age-standardized.</div>
<div class="t ft" style="right:19px;top:548.7px">OurWorldinData.org/smoking | CC BY</div>
</body></html>
